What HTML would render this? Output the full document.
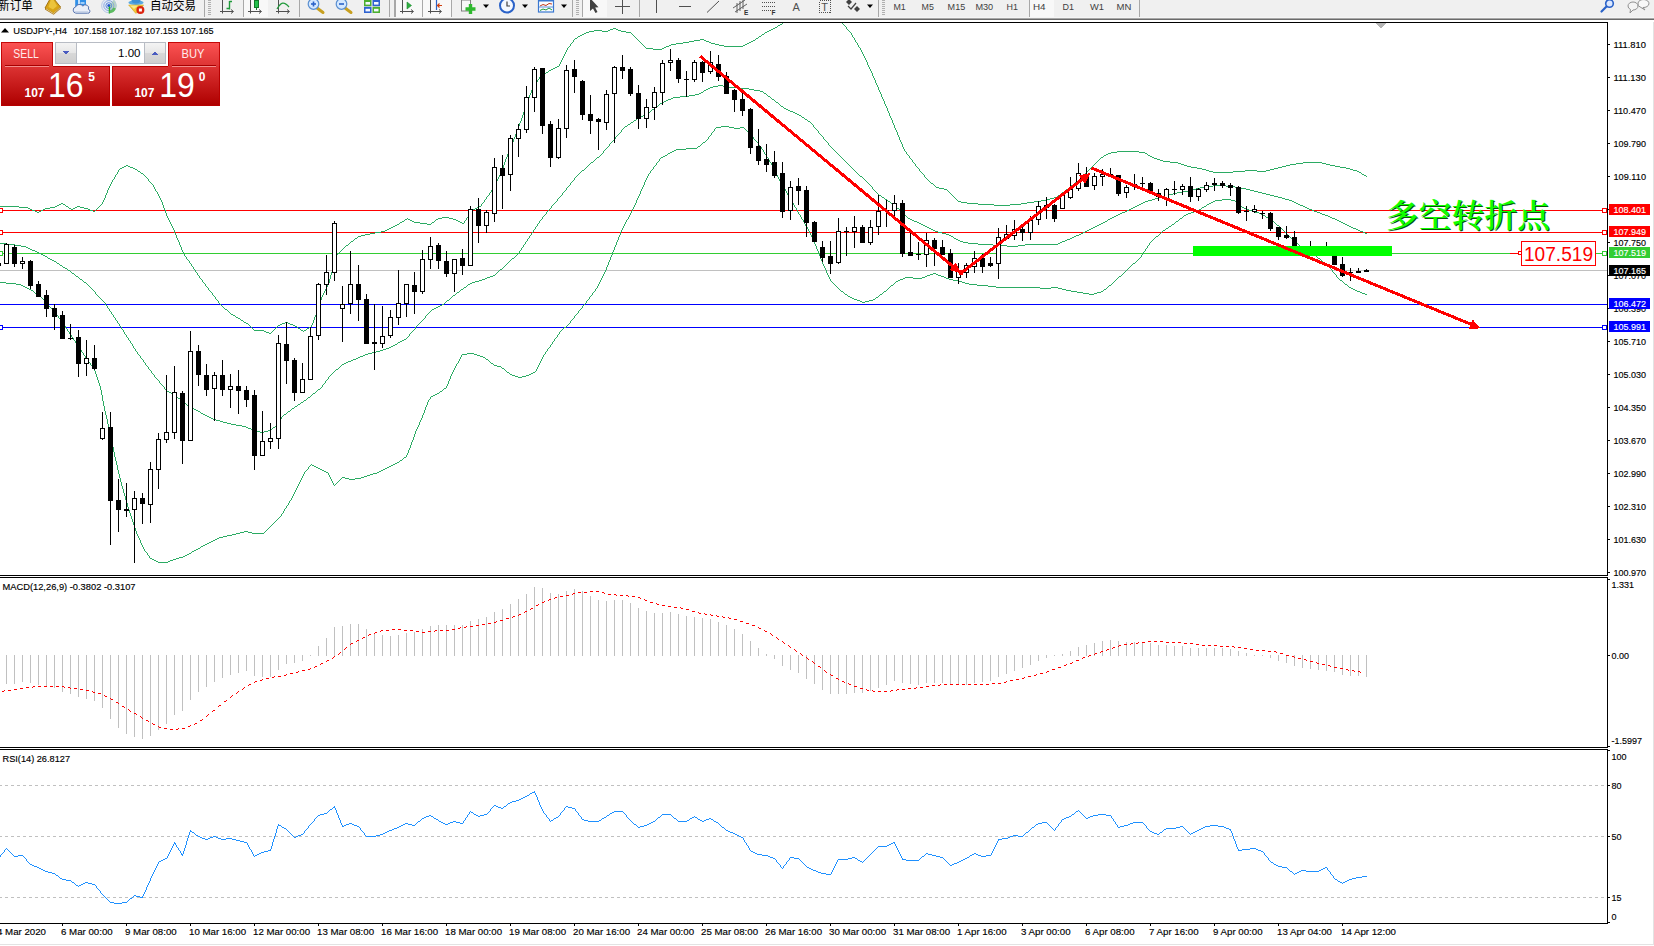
<!DOCTYPE html>
<html lang="zh"><head><meta charset="utf-8"><title>USDJPY-,H4</title>
<style>html,body{margin:0;padding:0;background:#fff;overflow:hidden}svg{display:block}text{white-space:pre}</style>
</head><body>
<svg width="1654" height="946" viewBox="0 0 1654 946">
<rect x="0" y="0" width="1654" height="946" fill="#ffffff" />
<defs><clipPath id="cm"><rect x="0" y="23" width="1607" height="552"/></clipPath><clipPath id="c2"><rect x="0" y="578" width="1607" height="169"/></clipPath><clipPath id="c3"><rect x="0" y="750" width="1607" height="173"/></clipPath><linearGradient id="gs1" x1="0" y1="0" x2="0" y2="1"><stop offset="0" stop-color="#fb5252"/><stop offset="1" stop-color="#dc3232"/></linearGradient><linearGradient id="gs2" x1="0" y1="0" x2="0" y2="1"><stop offset="0" stop-color="#dc3232"/><stop offset="1" stop-color="#ae0000"/></linearGradient><linearGradient id="gb" x1="0" y1="0" x2="0" y2="1"><stop offset="0" stop-color="#f4f4f4"/><stop offset="0.5" stop-color="#e6e6e6"/><stop offset="0.51" stop-color="#d8d8d8"/><stop offset="1" stop-color="#cfcfcf"/></linearGradient></defs>
<g clip-path="url(#cm)" shape-rendering="crispEdges">
<rect x="0" y="270" width="1608" height="1" fill="#c0c0c0" />
<rect x="0" y="210" width="1608" height="1" fill="#ff0000" />
<rect x="0" y="232" width="1608" height="1" fill="#ff0000" />
<rect x="0" y="253" width="1511" height="1" fill="#32cd32" />
<rect x="1595" y="253" width="13" height="1" fill="#32cd32" />
<rect x="0" y="304" width="1608" height="1" fill="#0000ff" />
<rect x="0" y="327" width="1608" height="1" fill="#0000ff" />
<path d="M811,5h3v1h-3zM809,6h2v1h-2zM814,6h4v1h-4zM806,7h3v1h-3zM818,7h3v1h-3zM804,8h2v1h-2zM821,8h4v1h-4zM802,9h2v1h-2zM825,9h4v1h-4zM799,10h3v1h-3zM829,10h2v1h-2zM797,11h2v1h-2zM795,12h2v1h-2zM791,15h2v1h-2zM785,20h2v1h-2zM780,24h2v1h-2zM778,25h2v1h-2zM775,27h2v1h-2zM613,28h3v1h-3zM773,28h2v1h-2zM610,29h3v1h-3zM616,29h2v1h-2zM771,29h2v1h-2zM594,30h8v1h-8zM608,30h2v1h-2zM618,30h3v1h-3zM769,30h2v1h-2zM589,31h5v1h-5zM602,31h6v1h-6zM621,31h5v1h-5zM767,31h2v1h-2zM586,32h3v1h-3zM626,32h5v1h-5zM765,32h2v1h-2zM584,33h2v1h-2zM582,34h2v1h-2zM762,34h2v1h-2zM580,35h2v1h-2zM578,36h2v1h-2zM759,36h2v1h-2zM575,38h2v1h-2zM756,38h2v1h-2zM700,39h4v1h-4zM694,40h6v1h-6zM704,40h2v1h-2zM753,40h2v1h-2zM689,41h5v1h-5zM706,41h3v1h-3zM751,41h2v1h-2zM683,42h6v1h-6zM709,42h2v1h-2zM749,42h2v1h-2zM676,43h7v1h-7zM711,43h4v1h-4zM747,43h2v1h-2zM671,44h5v1h-5zM715,44h4v1h-4zM745,44h2v1h-2zM669,45h2v1h-2zM719,45h5v1h-5zM743,45h2v1h-2zM666,46h3v1h-3zM724,46h19v1h-19zM664,47h2v1h-2zM646,48h7v1h-7zM662,48h2v1h-2zM653,49h9v1h-9zM557,66h2v1h-2zM555,67h2v1h-2zM553,68h2v1h-2zM551,69h2v1h-2zM549,70h2v1h-2zM546,72h2v1h-2zM544,73h2v1h-2zM541,75h2v1h-2zM1117,151h22v1h-22zM1111,152h6v1h-6zM1139,152h6v1h-6zM1108,153h3v1h-3zM1145,153h2v1h-2zM1106,154h2v1h-2zM1104,155h2v1h-2zM1148,155h2v1h-2zM1150,156h2v1h-2zM1101,157h2v1h-2zM1152,157h2v1h-2zM1154,158h3v1h-3zM1157,159h3v1h-3zM1160,160h3v1h-3zM1163,161h7v1h-7zM1170,162h8v1h-8zM1303,162h19v1h-19zM1178,163h3v1h-3zM1296,163h7v1h-7zM1322,163h4v1h-4zM1181,164h3v1h-3zM1290,164h6v1h-6zM1326,164h4v1h-4zM126,165h2v1h-2zM1184,165h3v1h-3zM1286,165h4v1h-4zM1330,165h5v1h-5zM124,166h2v1h-2zM128,166h2v1h-2zM1187,166h4v1h-4zM1282,166h4v1h-4zM1335,166h5v1h-5zM122,167h2v1h-2zM130,167h3v1h-3zM1191,167h6v1h-6zM1278,167h4v1h-4zM1340,167h6v1h-6zM120,168h2v1h-2zM133,168h2v1h-2zM1197,168h5v1h-5zM1274,168h4v1h-4zM1346,168h4v1h-4zM135,169h2v1h-2zM1202,169h4v1h-4zM1270,169h4v1h-4zM1350,169h3v1h-3zM1206,170h3v1h-3zM1245,170h12v1h-12zM1266,170h4v1h-4zM1353,170h4v1h-4zM138,171h2v1h-2zM1209,171h4v1h-4zM1233,171h12v1h-12zM1257,171h9v1h-9zM1357,171h2v1h-2zM1213,172h20v1h-20zM1359,172h2v1h-2zM141,173h2v1h-2zM1362,174h2v1h-2zM1364,175h2v1h-2zM1077,180h2v1h-2zM931,183h2v1h-2zM1071,185h2v1h-2zM936,187h3v1h-3zM939,188h5v1h-5zM944,189h3v1h-3zM1066,189h2v1h-2zM1062,192h2v1h-2zM1058,195h2v1h-2zM1054,197h3v1h-3zM1050,198h4v1h-4zM1046,199h4v1h-4zM1041,200h5v1h-5zM958,201h3v1h-3zM1034,201h7v1h-7zM961,202h6v1h-6zM1027,202h7v1h-7zM61,203h2v1h-2zM967,203h11v1h-11zM1021,203h6v1h-6zM59,204h2v1h-2zM63,204h2v1h-2zM978,204h16v1h-16zM1010,204h11v1h-11zM57,205h2v1h-2zM994,205h16v1h-16zM-2,206h21v1h-21zM55,206h2v1h-2zM66,206h2v1h-2zM77,206h3v1h-3zM479,206h2v1h-2zM19,207h9v1h-9zM50,207h5v1h-5zM75,207h2v1h-2zM80,207h4v1h-4zM477,207h2v1h-2zM28,208h2v1h-2zM45,208h5v1h-5zM69,208h2v1h-2zM73,208h2v1h-2zM84,208h4v1h-4zM475,208h2v1h-2zM30,209h2v1h-2zM43,209h2v1h-2zM71,209h2v1h-2zM88,209h2v1h-2zM473,209h2v1h-2zM32,210h3v1h-3zM41,210h2v1h-2zM90,210h3v1h-3zM35,211h2v1h-2zM39,211h2v1h-2zM93,211h2v1h-2zM37,212h2v1h-2zM442,217h7v1h-7zM438,218h4v1h-4zM449,218h4v1h-4zM405,219h2v1h-2zM408,219h2v1h-2zM436,219h2v1h-2zM453,219h3v1h-3zM410,220h2v1h-2zM456,220h2v1h-2zM402,221h2v1h-2zM412,221h2v1h-2zM458,221h2v1h-2zM400,222h2v1h-2zM414,222h6v1h-6zM432,222h2v1h-2zM460,222h2v1h-2zM420,223h7v1h-7zM462,223h2v1h-2zM397,224h2v1h-2zM427,224h4v1h-4zM395,225h2v1h-2zM393,226h2v1h-2zM391,227h2v1h-2zM389,228h2v1h-2zM387,229h2v1h-2zM385,230h2v1h-2zM381,231h4v1h-4zM375,232h6v1h-6zM370,233h5v1h-5zM365,234h5v1h-5zM361,235h4v1h-4zM358,236h3v1h-3zM355,238h2v1h-2zM351,241h2v1h-2zM346,245h2v1h-2zM225,309h2v1h-2zM231,314h2v1h-2zM233,315h2v1h-2zM236,317h2v1h-2zM238,318h2v1h-2zM241,320h2v1h-2zM244,322h2v1h-2zM285,322h3v1h-3zM246,323h2v1h-2zM282,323h3v1h-3zM288,323h2v1h-2zM280,324h2v1h-2zM290,324h3v1h-3zM278,325h2v1h-2zM293,325h2v1h-2zM295,326h2v1h-2zM309,327h2v1h-2zM298,328h2v1h-2zM307,328h2v1h-2zM254,330h10v1h-10zM301,330h2v1h-2zM304,330h2v1h-2zM264,331h2v1h-2zM266,332h3v1h-3zM269,333h2v1h-2zM65,205h1v1h-1zM68,207h1v1h-1zM95,210h1v1h-1zM96,209h1v1h-1zM97,208h1v1h-1zM98,207h1v1h-1zM99,206h1v1h-1zM100,205h1v1h-1zM101,204h1v1h-1zM102,202h1v2h-1zM103,200h1v2h-1zM104,198h1v2h-1zM105,195h1v3h-1zM106,193h1v2h-1zM107,190h1v3h-1zM108,188h1v2h-1zM109,186h1v2h-1zM110,184h1v2h-1zM111,182h1v2h-1zM112,180h1v2h-1zM113,179h1v1h-1zM114,177h1v2h-1zM115,175h1v2h-1zM116,174h1v1h-1zM117,172h1v2h-1zM118,170h1v2h-1zM119,169h1v1h-1zM137,170h1v1h-1zM140,172h1v1h-1zM143,174h1v1h-1zM144,175h1v1h-1zM145,176h1v1h-1zM146,177h1v1h-1zM147,178h1v1h-1zM148,179h1v2h-1zM149,181h1v1h-1zM150,182h1v1h-1zM151,183h1v1h-1zM152,184h1v1h-1zM153,185h1v2h-1zM154,187h1v2h-1zM155,189h1v2h-1zM156,191h1v1h-1zM157,192h1v2h-1zM158,194h1v2h-1zM159,196h1v2h-1zM160,198h1v2h-1zM161,200h1v2h-1zM162,202h1v3h-1zM163,205h1v3h-1zM164,208h1v2h-1zM165,210h1v3h-1zM166,213h1v3h-1zM167,216h1v2h-1zM168,218h1v2h-1zM169,220h1v2h-1zM170,222h1v2h-1zM171,224h1v2h-1zM172,226h1v2h-1zM173,228h1v2h-1zM174,230h1v3h-1zM175,233h1v2h-1zM176,235h1v3h-1zM177,238h1v2h-1zM178,240h1v2h-1zM179,242h1v3h-1zM180,245h1v2h-1zM181,247h1v3h-1zM182,250h1v2h-1zM183,252h1v2h-1zM184,254h1v2h-1zM185,256h1v1h-1zM186,257h1v2h-1zM187,259h1v1h-1zM188,260h1v1h-1zM189,261h1v2h-1zM190,263h1v1h-1zM191,264h1v2h-1zM192,266h1v1h-1zM193,267h1v2h-1zM194,269h1v1h-1zM195,270h1v2h-1zM196,272h1v1h-1zM197,273h1v2h-1zM198,275h1v1h-1zM199,276h1v2h-1zM200,278h1v1h-1zM201,279h1v1h-1zM202,280h1v2h-1zM203,282h1v1h-1zM204,283h1v1h-1zM205,284h1v2h-1zM206,286h1v1h-1zM207,287h1v1h-1zM208,288h1v2h-1zM209,290h1v1h-1zM210,291h1v1h-1zM211,292h1v1h-1zM212,293h1v2h-1zM213,295h1v1h-1zM214,296h1v1h-1zM215,297h1v2h-1zM216,299h1v1h-1zM217,300h1v1h-1zM218,301h1v2h-1zM219,303h1v1h-1zM220,304h1v1h-1zM221,305h1v1h-1zM222,306h1v1h-1zM223,307h1v1h-1zM224,308h1v1h-1zM227,310h1v1h-1zM228,311h1v1h-1zM229,312h1v1h-1zM230,313h1v1h-1zM235,316h1v1h-1zM240,319h1v1h-1zM243,321h1v1h-1zM248,324h1v1h-1zM249,325h1v1h-1zM250,326h1v1h-1zM251,327h1v1h-1zM252,328h1v1h-1zM253,329h1v1h-1zM271,332h1v1h-1zM272,331h1v1h-1zM273,330h1v1h-1zM274,329h1v1h-1zM275,328h1v1h-1zM276,327h1v1h-1zM277,326h1v1h-1zM297,327h1v1h-1zM300,329h1v1h-1zM303,331h1v1h-1zM306,329h1v1h-1zM311,325h1v2h-1zM312,323h1v2h-1zM313,320h1v3h-1zM314,317h1v3h-1zM315,315h1v2h-1zM316,312h1v3h-1zM317,309h1v3h-1zM318,306h1v3h-1zM319,303h1v3h-1zM320,300h1v3h-1zM321,297h1v3h-1zM322,295h1v2h-1zM323,293h1v2h-1zM324,291h1v2h-1zM325,289h1v2h-1zM326,287h1v2h-1zM327,285h1v2h-1zM328,283h1v2h-1zM329,279h1v4h-1zM330,275h1v4h-1zM331,272h1v3h-1zM332,268h1v4h-1zM333,265h1v3h-1zM334,261h1v4h-1zM335,257h1v4h-1zM336,255h1v2h-1zM337,254h1v1h-1zM338,253h1v1h-1zM339,252h1v1h-1zM340,251h1v1h-1zM341,250h1v1h-1zM342,249h1v1h-1zM343,248h1v1h-1zM344,247h1v1h-1zM345,246h1v1h-1zM348,244h1v1h-1zM349,243h1v1h-1zM350,242h1v1h-1zM353,240h1v1h-1zM354,239h1v1h-1zM357,237h1v1h-1zM399,223h1v1h-1zM404,220h1v1h-1zM407,218h1v1h-1zM431,223h1v1h-1zM434,221h1v1h-1zM435,220h1v1h-1zM464,221h1v2h-1zM465,220h1v1h-1zM466,218h1v2h-1zM467,217h1v1h-1zM468,216h1v1h-1zM469,214h1v2h-1zM470,213h1v1h-1zM471,211h1v2h-1zM472,210h1v1h-1zM481,204h1v2h-1zM482,203h1v1h-1zM483,202h1v1h-1zM484,200h1v2h-1zM485,199h1v1h-1zM486,197h1v2h-1zM487,196h1v1h-1zM488,195h1v1h-1zM489,193h1v2h-1zM490,192h1v1h-1zM491,190h1v2h-1zM492,188h1v2h-1zM493,186h1v2h-1zM494,184h1v2h-1zM495,183h1v1h-1zM496,181h1v2h-1zM497,179h1v2h-1zM498,177h1v2h-1zM499,175h1v2h-1zM500,173h1v2h-1zM501,170h1v3h-1zM502,168h1v2h-1zM503,165h1v3h-1zM504,162h1v3h-1zM505,159h1v3h-1zM506,157h1v2h-1zM507,154h1v3h-1zM508,151h1v3h-1zM509,149h1v2h-1zM510,146h1v3h-1zM511,144h1v2h-1zM512,142h1v2h-1zM513,139h1v3h-1zM514,137h1v2h-1zM515,134h1v3h-1zM516,132h1v2h-1zM517,129h1v3h-1zM518,126h1v3h-1zM519,123h1v3h-1zM520,121h1v2h-1zM521,118h1v3h-1zM522,115h1v3h-1zM523,112h1v3h-1zM524,109h1v3h-1zM525,106h1v3h-1zM526,104h1v2h-1zM527,101h1v3h-1zM528,98h1v3h-1zM529,95h1v3h-1zM530,93h1v2h-1zM531,90h1v3h-1zM532,88h1v2h-1zM533,86h1v2h-1zM534,85h1v1h-1zM535,83h1v2h-1zM536,82h1v1h-1zM537,80h1v2h-1zM538,79h1v1h-1zM539,77h1v2h-1zM540,76h1v1h-1zM543,74h1v1h-1zM548,71h1v1h-1zM559,64h1v2h-1zM560,62h1v2h-1zM561,60h1v2h-1zM562,58h1v2h-1zM563,56h1v2h-1zM564,54h1v2h-1zM565,52h1v2h-1zM566,50h1v2h-1zM567,48h1v2h-1zM568,47h1v1h-1zM569,46h1v1h-1zM570,44h1v2h-1zM571,43h1v1h-1zM572,42h1v1h-1zM573,40h1v2h-1zM574,39h1v1h-1zM577,37h1v1h-1zM631,33h1v1h-1zM632,34h1v1h-1zM633,35h1v1h-1zM634,36h1v1h-1zM635,37h1v1h-1zM636,38h1v1h-1zM637,39h1v1h-1zM638,40h1v1h-1zM639,41h1v1h-1zM640,42h1v1h-1zM641,43h1v1h-1zM642,44h1v1h-1zM643,45h1v1h-1zM644,46h1v1h-1zM645,47h1v1h-1zM755,39h1v1h-1zM758,37h1v1h-1zM761,35h1v1h-1zM764,33h1v1h-1zM777,26h1v1h-1zM782,23h1v1h-1zM783,22h1v1h-1zM784,21h1v1h-1zM787,19h1v1h-1zM788,18h1v1h-1zM789,17h1v1h-1zM790,16h1v1h-1zM793,14h1v1h-1zM794,13h1v1h-1zM831,11h1v1h-1zM832,12h1v1h-1zM833,13h1v1h-1zM834,14h1v1h-1zM835,15h1v1h-1zM836,16h1v2h-1zM837,18h1v1h-1zM838,19h1v1h-1zM839,20h1v1h-1zM840,21h1v1h-1zM841,22h1v1h-1zM842,23h1v1h-1zM843,24h1v1h-1zM844,25h1v1h-1zM845,26h1v1h-1zM846,27h1v2h-1zM847,29h1v1h-1zM848,30h1v1h-1zM849,31h1v1h-1zM850,32h1v1h-1zM851,33h1v2h-1zM852,35h1v2h-1zM853,37h1v1h-1zM854,38h1v2h-1zM855,40h1v2h-1zM856,42h1v1h-1zM857,43h1v2h-1zM858,45h1v2h-1zM859,47h1v1h-1zM860,48h1v2h-1zM861,50h1v2h-1zM862,52h1v2h-1zM863,54h1v2h-1zM864,56h1v2h-1zM865,58h1v2h-1zM866,60h1v2h-1zM867,62h1v3h-1zM868,65h1v2h-1zM869,67h1v2h-1zM870,69h1v2h-1zM871,71h1v2h-1zM872,73h1v3h-1zM873,76h1v2h-1zM874,78h1v2h-1zM875,80h1v3h-1zM876,83h1v2h-1zM877,85h1v2h-1zM878,87h1v3h-1zM879,90h1v2h-1zM880,92h1v2h-1zM881,94h1v3h-1zM882,97h1v2h-1zM883,99h1v2h-1zM884,101h1v3h-1zM885,104h1v2h-1zM886,106h1v2h-1zM887,108h1v3h-1zM888,111h1v2h-1zM889,113h1v3h-1zM890,116h1v2h-1zM891,118h1v2h-1zM892,120h1v3h-1zM893,123h1v2h-1zM894,125h1v3h-1zM895,128h1v2h-1zM896,130h1v2h-1zM897,132h1v3h-1zM898,135h1v2h-1zM899,137h1v3h-1zM900,140h1v2h-1zM901,142h1v2h-1zM902,144h1v3h-1zM903,147h1v2h-1zM904,149h1v2h-1zM905,151h1v1h-1zM906,152h1v2h-1zM907,154h1v1h-1zM908,155h1v1h-1zM909,156h1v2h-1zM910,158h1v1h-1zM911,159h1v1h-1zM912,160h1v2h-1zM913,162h1v1h-1zM914,163h1v1h-1zM915,164h1v2h-1zM916,166h1v1h-1zM917,167h1v1h-1zM918,168h1v1h-1zM919,169h1v2h-1zM920,171h1v1h-1zM921,172h1v1h-1zM922,173h1v1h-1zM923,174h1v1h-1zM924,175h1v2h-1zM925,177h1v1h-1zM926,178h1v1h-1zM927,179h1v1h-1zM928,180h1v1h-1zM929,181h1v1h-1zM930,182h1v1h-1zM933,184h1v1h-1zM934,185h1v1h-1zM935,186h1v1h-1zM947,190h1v1h-1zM948,191h1v1h-1zM949,192h1v1h-1zM950,193h1v1h-1zM951,194h1v1h-1zM952,195h1v1h-1zM953,196h1v1h-1zM954,197h1v1h-1zM955,198h1v1h-1zM956,199h1v1h-1zM957,200h1v1h-1zM1057,196h1v1h-1zM1060,194h1v1h-1zM1061,193h1v1h-1zM1064,191h1v1h-1zM1065,190h1v1h-1zM1068,188h1v1h-1zM1069,187h1v1h-1zM1070,186h1v1h-1zM1073,184h1v1h-1zM1074,183h1v1h-1zM1075,182h1v1h-1zM1076,181h1v1h-1zM1079,179h1v1h-1zM1080,178h1v1h-1zM1081,177h1v1h-1zM1082,176h1v1h-1zM1083,175h1v1h-1zM1084,174h1v1h-1zM1085,173h1v1h-1zM1086,172h1v1h-1zM1087,171h1v1h-1zM1088,170h1v1h-1zM1089,169h1v1h-1zM1090,168h1v1h-1zM1091,167h1v1h-1zM1092,166h1v1h-1zM1093,165h1v1h-1zM1094,164h1v1h-1zM1095,163h1v1h-1zM1096,162h1v1h-1zM1097,161h1v1h-1zM1098,160h1v1h-1zM1099,159h1v1h-1zM1100,158h1v1h-1zM1103,156h1v1h-1zM1147,154h1v1h-1zM1361,173h1v1h-1zM1366,176h1v1h-1z" fill="#2bab63"/>
<path d="M718,85h5v1h-5zM713,86h5v1h-5zM723,86h6v1h-6zM710,87h3v1h-3zM729,87h10v1h-10zM708,88h2v1h-2zM739,88h10v1h-10zM706,89h2v1h-2zM749,89h5v1h-5zM704,90h2v1h-2zM754,90h6v1h-6zM760,91h3v1h-3zM701,92h2v1h-2zM699,93h2v1h-2zM764,93h2v1h-2zM695,94h4v1h-4zM689,95h6v1h-6zM680,96h9v1h-9zM768,96h2v1h-2zM673,97h7v1h-7zM671,98h2v1h-2zM668,99h3v1h-3zM772,99h2v1h-2zM666,100h2v1h-2zM664,101h2v1h-2zM662,102h2v1h-2zM776,102h2v1h-2zM660,103h2v1h-2zM656,106h2v1h-2zM781,106h2v1h-2zM784,108h2v1h-2zM652,109h2v1h-2zM786,109h2v1h-2zM788,110h2v1h-2zM790,111h3v1h-3zM648,112h2v1h-2zM793,112h2v1h-2zM646,113h2v1h-2zM795,113h2v1h-2zM644,114h2v1h-2zM797,114h2v1h-2zM799,115h2v1h-2zM641,116h2v1h-2zM639,117h2v1h-2zM802,117h2v1h-2zM637,118h2v1h-2zM805,119h2v1h-2zM634,120h2v1h-2zM808,121h2v1h-2zM631,122h2v1h-2zM628,124h2v1h-2zM625,126h2v1h-2zM597,157h2v1h-2zM591,162h2v1h-2zM582,170h2v1h-2zM860,176h2v1h-2zM1213,185h13v1h-13zM1204,186h9v1h-9zM1226,186h9v1h-9zM1200,187h4v1h-4zM1235,187h6v1h-6zM1196,188h4v1h-4zM1241,188h5v1h-5zM1192,189h4v1h-4zM1246,189h4v1h-4zM1188,190h4v1h-4zM1250,190h4v1h-4zM1182,191h6v1h-6zM1254,191h4v1h-4zM1177,192h5v1h-5zM1258,192h4v1h-4zM1173,193h4v1h-4zM1262,193h4v1h-4zM1169,194h4v1h-4zM1266,194h4v1h-4zM879,195h2v1h-2zM1166,195h3v1h-3zM1270,195h4v1h-4zM1162,196h4v1h-4zM1274,196h4v1h-4zM882,197h2v1h-2zM1159,197h3v1h-3zM1278,197h4v1h-4zM1155,198h4v1h-4zM1282,198h3v1h-3zM885,199h2v1h-2zM1152,199h3v1h-3zM1285,199h4v1h-4zM1148,200h4v1h-4zM1289,200h3v1h-3zM888,201h2v1h-2zM1145,201h3v1h-3zM1292,201h2v1h-2zM1143,202h2v1h-2zM1294,202h2v1h-2zM1141,203h2v1h-2zM1296,203h2v1h-2zM892,204h2v1h-2zM1139,204h2v1h-2zM1298,204h2v1h-2zM1137,205h2v1h-2zM1300,205h3v1h-3zM1135,206h2v1h-2zM1303,206h2v1h-2zM1133,207h2v1h-2zM1305,207h2v1h-2zM897,208h2v1h-2zM1131,208h2v1h-2zM1307,208h2v1h-2zM1129,209h2v1h-2zM1309,209h3v1h-3zM1127,210h2v1h-2zM1312,210h2v1h-2zM1125,211h2v1h-2zM1314,211h3v1h-3zM1122,212h3v1h-3zM1317,212h3v1h-3zM1120,213h2v1h-2zM1320,213h2v1h-2zM1118,214h2v1h-2zM1322,214h3v1h-3zM1116,215h2v1h-2zM1325,215h3v1h-3zM1114,216h2v1h-2zM1328,216h2v1h-2zM1112,217h2v1h-2zM1330,217h2v1h-2zM908,218h2v1h-2zM1110,218h2v1h-2zM1332,218h3v1h-3zM910,219h2v1h-2zM1108,219h2v1h-2zM1335,219h2v1h-2zM912,220h2v1h-2zM1337,220h2v1h-2zM914,221h3v1h-3zM1105,221h2v1h-2zM1339,221h2v1h-2zM917,222h2v1h-2zM1103,222h2v1h-2zM1341,222h2v1h-2zM919,223h2v1h-2zM1101,223h2v1h-2zM1343,223h2v1h-2zM921,224h2v1h-2zM1099,224h2v1h-2zM1345,224h2v1h-2zM923,225h2v1h-2zM1097,225h2v1h-2zM1347,225h2v1h-2zM925,226h2v1h-2zM1095,226h2v1h-2zM1349,226h2v1h-2zM927,227h2v1h-2zM1093,227h2v1h-2zM1351,227h2v1h-2zM929,228h2v1h-2zM1091,228h2v1h-2zM1353,228h3v1h-3zM931,229h2v1h-2zM1089,229h2v1h-2zM1356,229h2v1h-2zM933,230h2v1h-2zM1087,230h2v1h-2zM1358,230h2v1h-2zM935,231h3v1h-3zM1085,231h2v1h-2zM1360,231h3v1h-3zM938,232h4v1h-4zM1083,232h2v1h-2zM1363,232h2v1h-2zM942,233h4v1h-4zM1081,233h2v1h-2zM1365,233h2v1h-2zM946,234h3v1h-3zM1079,234h2v1h-2zM949,235h2v1h-2zM1076,235h3v1h-3zM951,236h2v1h-2zM1074,236h2v1h-2zM1072,237h2v1h-2zM954,238h2v1h-2zM1070,238h2v1h-2zM956,239h2v1h-2zM1067,239h3v1h-3zM958,240h2v1h-2zM1065,240h2v1h-2zM960,241h3v1h-3zM1062,241h3v1h-3zM963,242h5v1h-5zM1060,242h2v1h-2zM-2,243h8v1h-8zM968,243h10v1h-10zM1058,243h2v1h-2zM6,244h9v1h-9zM978,244h15v1h-15zM1025,244h33v1h-33zM15,245h6v1h-6zM993,245h14v1h-14zM1018,245h7v1h-7zM21,246h5v1h-5zM1007,246h11v1h-11zM26,247h2v1h-2zM28,248h2v1h-2zM30,249h2v1h-2zM32,250h3v1h-3zM35,251h2v1h-2zM37,252h2v1h-2zM39,253h2v1h-2zM41,254h2v1h-2zM43,255h2v1h-2zM45,256h2v1h-2zM48,258h2v1h-2zM512,258h2v1h-2zM50,259h2v1h-2zM52,260h2v1h-2zM54,261h2v1h-2zM57,263h2v1h-2zM60,265h2v1h-2zM63,267h2v1h-2zM65,268h2v1h-2zM500,269h2v1h-2zM68,270h2v1h-2zM72,273h2v1h-2zM493,275h2v1h-2zM76,276h2v1h-2zM490,276h3v1h-3zM487,277h3v1h-3zM485,278h2v1h-2zM80,279h2v1h-2zM482,279h3v1h-3zM479,280h3v1h-3zM475,281h4v1h-4zM84,282h2v1h-2zM472,282h3v1h-3zM470,283h2v1h-2zM468,284h2v1h-2zM464,287h2v1h-2zM461,289h2v1h-2zM457,292h2v1h-2zM453,295h2v1h-2zM447,300h2v1h-2zM442,304h2v1h-2zM440,305h2v1h-2zM438,306h2v1h-2zM436,307h2v1h-2zM434,308h2v1h-2zM432,309h2v1h-2zM404,339h2v1h-2zM402,340h2v1h-2zM400,341h2v1h-2zM398,342h2v1h-2zM395,344h2v1h-2zM393,345h2v1h-2zM391,346h2v1h-2zM389,347h2v1h-2zM386,348h3v1h-3zM383,349h3v1h-3zM380,350h3v1h-3zM376,351h4v1h-4zM372,352h4v1h-4zM368,353h4v1h-4zM365,354h3v1h-3zM363,355h2v1h-2zM360,356h3v1h-3zM358,357h2v1h-2zM356,358h2v1h-2zM353,359h3v1h-3zM351,360h2v1h-2zM348,361h3v1h-3zM346,362h2v1h-2zM344,363h2v1h-2zM342,364h2v1h-2zM336,369h2v1h-2zM318,389h2v1h-2zM167,391h2v1h-2zM169,392h2v1h-2zM313,393h2v1h-2zM172,394h2v1h-2zM174,395h2v1h-2zM308,397h2v1h-2zM178,398h2v1h-2zM304,400h2v1h-2zM301,402h2v1h-2zM184,403h2v1h-2zM298,404h2v1h-2zM188,406h2v1h-2zM295,406h2v1h-2zM190,407h2v1h-2zM192,408h2v1h-2zM292,408h2v1h-2zM194,409h2v1h-2zM196,410h2v1h-2zM198,411h2v1h-2zM288,411h2v1h-2zM201,413h2v1h-2zM203,414h2v1h-2zM284,414h2v1h-2zM205,415h2v1h-2zM207,416h2v1h-2zM209,417h2v1h-2zM211,418h2v1h-2zM213,419h3v1h-3zM216,420h4v1h-4zM220,421h3v1h-3zM223,422h4v1h-4zM227,423h4v1h-4zM231,424h5v1h-5zM236,425h6v1h-6zM242,426h4v1h-4zM246,427h2v1h-2zM273,427h2v1h-2zM248,428h3v1h-3zM251,429h2v1h-2zM253,430h3v1h-3zM268,430h3v1h-3zM256,431h4v1h-4zM264,431h4v1h-4zM260,432h4v1h-4zM47,257h1v1h-1zM56,262h1v1h-1zM59,264h1v1h-1zM62,266h1v1h-1zM67,269h1v1h-1zM70,271h1v1h-1zM71,272h1v1h-1zM74,274h1v1h-1zM75,275h1v1h-1zM78,277h1v1h-1zM79,278h1v1h-1zM82,280h1v1h-1zM83,281h1v1h-1zM86,283h1v1h-1zM87,284h1v1h-1zM88,285h1v1h-1zM89,286h1v1h-1zM90,287h1v1h-1zM91,288h1v1h-1zM92,289h1v1h-1zM93,290h1v1h-1zM94,291h1v1h-1zM95,292h1v2h-1zM96,294h1v1h-1zM97,295h1v1h-1zM98,296h1v1h-1zM99,297h1v1h-1zM100,298h1v1h-1zM101,299h1v1h-1zM102,300h1v1h-1zM103,301h1v1h-1zM104,302h1v1h-1zM105,303h1v2h-1zM106,305h1v1h-1zM107,306h1v2h-1zM108,308h1v1h-1zM109,309h1v2h-1zM110,311h1v1h-1zM111,312h1v2h-1zM112,314h1v1h-1zM113,315h1v2h-1zM114,317h1v1h-1zM115,318h1v2h-1zM116,320h1v1h-1zM117,321h1v2h-1zM118,323h1v1h-1zM119,324h1v2h-1zM120,326h1v1h-1zM121,327h1v2h-1zM122,329h1v1h-1zM123,330h1v2h-1zM124,332h1v2h-1zM125,334h1v1h-1zM126,335h1v2h-1zM127,337h1v1h-1zM128,338h1v2h-1zM129,340h1v1h-1zM130,341h1v2h-1zM131,343h1v1h-1zM132,344h1v2h-1zM133,346h1v2h-1zM134,348h1v1h-1zM135,349h1v2h-1zM136,351h1v1h-1zM137,352h1v2h-1zM138,354h1v1h-1zM139,355h1v1h-1zM140,356h1v2h-1zM141,358h1v1h-1zM142,359h1v1h-1zM143,360h1v2h-1zM144,362h1v1h-1zM145,363h1v2h-1zM146,365h1v1h-1zM147,366h1v1h-1zM148,367h1v2h-1zM149,369h1v1h-1zM150,370h1v1h-1zM151,371h1v2h-1zM152,373h1v1h-1zM153,374h1v1h-1zM154,375h1v2h-1zM155,377h1v1h-1zM156,378h1v1h-1zM157,379h1v1h-1zM158,380h1v1h-1zM159,381h1v2h-1zM160,383h1v1h-1zM161,384h1v1h-1zM162,385h1v1h-1zM163,386h1v1h-1zM164,387h1v2h-1zM165,389h1v1h-1zM166,390h1v1h-1zM171,393h1v1h-1zM176,396h1v1h-1zM177,397h1v1h-1zM180,399h1v1h-1zM181,400h1v1h-1zM182,401h1v1h-1zM183,402h1v1h-1zM186,404h1v1h-1zM187,405h1v1h-1zM200,412h1v1h-1zM271,429h1v1h-1zM272,428h1v1h-1zM275,426h1v1h-1zM276,425h1v1h-1zM277,423h1v2h-1zM278,422h1v1h-1zM279,420h1v2h-1zM280,419h1v1h-1zM281,417h1v2h-1zM282,416h1v1h-1zM283,415h1v1h-1zM286,413h1v1h-1zM287,412h1v1h-1zM290,410h1v1h-1zM291,409h1v1h-1zM294,407h1v1h-1zM297,405h1v1h-1zM300,403h1v1h-1zM303,401h1v1h-1zM306,399h1v1h-1zM307,398h1v1h-1zM310,396h1v1h-1zM311,395h1v1h-1zM312,394h1v1h-1zM315,392h1v1h-1zM316,391h1v1h-1zM317,390h1v1h-1zM320,388h1v1h-1zM321,387h1v1h-1zM322,385h1v2h-1zM323,384h1v1h-1zM324,383h1v1h-1zM325,381h1v2h-1zM326,380h1v1h-1zM327,379h1v1h-1zM328,377h1v2h-1zM329,376h1v1h-1zM330,375h1v1h-1zM331,374h1v1h-1zM332,373h1v1h-1zM333,372h1v1h-1zM334,371h1v1h-1zM335,370h1v1h-1zM338,368h1v1h-1zM339,367h1v1h-1zM340,366h1v1h-1zM341,365h1v1h-1zM397,343h1v1h-1zM406,338h1v1h-1zM407,337h1v1h-1zM408,336h1v1h-1zM409,334h1v2h-1zM410,333h1v1h-1zM411,332h1v1h-1zM412,331h1v1h-1zM413,330h1v1h-1zM414,329h1v1h-1zM415,327h1v2h-1zM416,326h1v1h-1zM417,325h1v1h-1zM418,324h1v1h-1zM419,323h1v1h-1zM420,322h1v1h-1zM421,321h1v1h-1zM422,320h1v1h-1zM423,319h1v1h-1zM424,318h1v1h-1zM425,316h1v2h-1zM426,315h1v1h-1zM427,314h1v1h-1zM428,313h1v1h-1zM429,312h1v1h-1zM430,311h1v1h-1zM431,310h1v1h-1zM444,303h1v1h-1zM445,302h1v1h-1zM446,301h1v1h-1zM449,299h1v1h-1zM450,298h1v1h-1zM451,297h1v1h-1zM452,296h1v1h-1zM455,294h1v1h-1zM456,293h1v1h-1zM459,291h1v1h-1zM460,290h1v1h-1zM463,288h1v1h-1zM466,286h1v1h-1zM467,285h1v1h-1zM495,274h1v1h-1zM496,273h1v1h-1zM497,272h1v1h-1zM498,271h1v1h-1zM499,270h1v1h-1zM502,268h1v1h-1zM503,267h1v1h-1zM504,266h1v1h-1zM505,265h1v1h-1zM506,264h1v1h-1zM507,263h1v1h-1zM508,262h1v1h-1zM509,261h1v1h-1zM510,260h1v1h-1zM511,259h1v1h-1zM514,257h1v1h-1zM515,256h1v1h-1zM516,255h1v1h-1zM517,254h1v1h-1zM518,253h1v1h-1zM519,251h1v2h-1zM520,250h1v1h-1zM521,248h1v2h-1zM522,247h1v1h-1zM523,245h1v2h-1zM524,244h1v1h-1zM525,242h1v2h-1zM526,241h1v1h-1zM527,239h1v2h-1zM528,238h1v1h-1zM529,236h1v2h-1zM530,235h1v1h-1zM531,233h1v2h-1zM532,232h1v1h-1zM533,230h1v2h-1zM534,229h1v1h-1zM535,227h1v2h-1zM536,226h1v1h-1zM537,224h1v2h-1zM538,223h1v1h-1zM539,221h1v2h-1zM540,220h1v1h-1zM541,219h1v1h-1zM542,217h1v2h-1zM543,216h1v1h-1zM544,215h1v1h-1zM545,214h1v1h-1zM546,212h1v2h-1zM547,211h1v1h-1zM548,210h1v1h-1zM549,209h1v1h-1zM550,208h1v1h-1zM551,206h1v2h-1zM552,205h1v1h-1zM553,204h1v1h-1zM554,203h1v1h-1zM555,202h1v1h-1zM556,201h1v1h-1zM557,199h1v2h-1zM558,198h1v1h-1zM559,197h1v1h-1zM560,196h1v1h-1zM561,195h1v1h-1zM562,193h1v2h-1zM563,192h1v1h-1zM564,191h1v1h-1zM565,190h1v1h-1zM566,188h1v2h-1zM567,187h1v1h-1zM568,186h1v1h-1zM569,185h1v1h-1zM570,183h1v2h-1zM571,182h1v1h-1zM572,181h1v1h-1zM573,180h1v1h-1zM574,178h1v2h-1zM575,177h1v1h-1zM576,176h1v1h-1zM577,175h1v1h-1zM578,174h1v1h-1zM579,173h1v1h-1zM580,172h1v1h-1zM581,171h1v1h-1zM584,169h1v1h-1zM585,168h1v1h-1zM586,167h1v1h-1zM587,166h1v1h-1zM588,165h1v1h-1zM589,164h1v1h-1zM590,163h1v1h-1zM593,161h1v1h-1zM594,160h1v1h-1zM595,159h1v1h-1zM596,158h1v1h-1zM599,156h1v1h-1zM600,155h1v1h-1zM601,154h1v1h-1zM602,153h1v1h-1zM603,151h1v2h-1zM604,150h1v1h-1zM605,149h1v1h-1zM606,148h1v1h-1zM607,147h1v1h-1zM608,146h1v1h-1zM609,144h1v2h-1zM610,143h1v1h-1zM611,142h1v1h-1zM612,141h1v1h-1zM613,140h1v1h-1zM614,139h1v1h-1zM615,137h1v2h-1zM616,136h1v1h-1zM617,135h1v1h-1zM618,134h1v1h-1zM619,133h1v1h-1zM620,132h1v1h-1zM621,130h1v2h-1zM622,129h1v1h-1zM623,128h1v1h-1zM624,127h1v1h-1zM627,125h1v1h-1zM630,123h1v1h-1zM633,121h1v1h-1zM636,119h1v1h-1zM643,115h1v1h-1zM650,111h1v1h-1zM651,110h1v1h-1zM654,108h1v1h-1zM655,107h1v1h-1zM658,105h1v1h-1zM659,104h1v1h-1zM703,91h1v1h-1zM763,92h1v1h-1zM766,94h1v1h-1zM767,95h1v1h-1zM770,97h1v1h-1zM771,98h1v1h-1zM774,100h1v1h-1zM775,101h1v1h-1zM778,103h1v1h-1zM779,104h1v1h-1zM780,105h1v1h-1zM783,107h1v1h-1zM801,116h1v1h-1zM804,118h1v1h-1zM807,120h1v1h-1zM810,122h1v1h-1zM811,123h1v1h-1zM812,124h1v1h-1zM813,125h1v2h-1zM814,127h1v1h-1zM815,128h1v1h-1zM816,129h1v1h-1zM817,130h1v1h-1zM818,131h1v2h-1zM819,133h1v1h-1zM820,134h1v1h-1zM821,135h1v1h-1zM822,136h1v1h-1zM823,137h1v2h-1zM824,139h1v1h-1zM825,140h1v1h-1zM826,141h1v1h-1zM827,142h1v1h-1zM828,143h1v2h-1zM829,145h1v1h-1zM830,146h1v1h-1zM831,147h1v1h-1zM832,148h1v1h-1zM833,149h1v1h-1zM834,150h1v1h-1zM835,151h1v1h-1zM836,152h1v1h-1zM837,153h1v1h-1zM838,154h1v1h-1zM839,155h1v1h-1zM840,156h1v1h-1zM841,157h1v1h-1zM842,158h1v1h-1zM843,159h1v1h-1zM844,160h1v1h-1zM845,161h1v1h-1zM846,162h1v1h-1zM847,163h1v1h-1zM848,164h1v1h-1zM849,165h1v1h-1zM850,166h1v1h-1zM851,167h1v1h-1zM852,168h1v1h-1zM853,169h1v1h-1zM854,170h1v1h-1zM855,171h1v1h-1zM856,172h1v1h-1zM857,173h1v1h-1zM858,174h1v1h-1zM859,175h1v1h-1zM862,177h1v1h-1zM863,178h1v1h-1zM864,179h1v1h-1zM865,180h1v1h-1zM866,181h1v1h-1zM867,182h1v1h-1zM868,183h1v1h-1zM869,184h1v1h-1zM870,185h1v1h-1zM871,186h1v1h-1zM872,187h1v2h-1zM873,189h1v1h-1zM874,190h1v1h-1zM875,191h1v1h-1zM876,192h1v1h-1zM877,193h1v1h-1zM878,194h1v1h-1zM881,196h1v1h-1zM884,198h1v1h-1zM887,200h1v1h-1zM890,202h1v1h-1zM891,203h1v1h-1zM894,205h1v1h-1zM895,206h1v1h-1zM896,207h1v1h-1zM899,209h1v1h-1zM900,210h1v1h-1zM901,211h1v1h-1zM902,212h1v1h-1zM903,213h1v1h-1zM904,214h1v1h-1zM905,215h1v1h-1zM906,216h1v1h-1zM907,217h1v1h-1zM953,237h1v1h-1zM1107,220h1v1h-1z" fill="#2bab63"/>
<path d="M721,126h8v1h-8zM716,127h5v1h-5zM729,127h5v1h-5zM740,127h4v1h-4zM734,128h6v1h-6zM703,142h2v1h-2zM698,146h2v1h-2zM686,148h11v1h-11zM676,149h10v1h-10zM674,150h2v1h-2zM672,151h2v1h-2zM670,152h2v1h-2zM668,153h2v1h-2zM665,155h2v1h-2zM663,156h2v1h-2zM661,157h2v1h-2zM1222,199h9v1h-9zM1215,200h7v1h-7zM1231,200h4v1h-4zM1213,201h2v1h-2zM1211,202h2v1h-2zM1209,203h2v1h-2zM1207,204h2v1h-2zM1238,204h2v1h-2zM1204,206h2v1h-2zM1202,207h2v1h-2zM1242,207h2v1h-2zM1244,208h2v1h-2zM1199,209h2v1h-2zM1246,209h3v1h-3zM1197,210h2v1h-2zM1249,210h3v1h-3zM1194,211h3v1h-3zM1252,211h3v1h-3zM1191,212h3v1h-3zM1255,212h4v1h-4zM1188,213h3v1h-3zM1259,213h2v1h-2zM1186,214h2v1h-2zM1261,214h2v1h-2zM1184,215h2v1h-2zM1263,215h2v1h-2zM1266,217h2v1h-2zM1180,218h2v1h-2zM1268,218h2v1h-2zM1176,221h2v1h-2zM1272,221h2v1h-2zM1172,224h2v1h-2zM1277,225h2v1h-2zM1169,226h2v1h-2zM1166,228h2v1h-2zM1163,230h2v1h-2zM1156,236h2v1h-2zM1295,242h2v1h-2zM1301,247h2v1h-2zM1303,248h2v1h-2zM1306,250h2v1h-2zM1308,251h2v1h-2zM1311,253h2v1h-2zM1313,254h2v1h-2zM1318,258h2v1h-2zM1133,263h2v1h-2zM1326,265h2v1h-2zM933,273h3v1h-3zM930,274h3v1h-3zM936,274h2v1h-2zM927,275h3v1h-3zM938,275h3v1h-3zM925,276h2v1h-2zM941,276h3v1h-3zM1119,276h2v1h-2zM905,277h8v1h-8zM922,277h3v1h-3zM944,277h2v1h-2zM903,278h2v1h-2zM913,278h9v1h-9zM946,278h3v1h-3zM900,279h3v1h-3zM949,279h4v1h-4zM898,280h2v1h-2zM953,280h5v1h-5zM1340,280h2v1h-2zM896,281h2v1h-2zM958,281h4v1h-4zM-2,282h8v1h-8zM962,282h3v1h-3zM6,283h10v1h-10zM965,283h4v1h-4zM16,284h5v1h-5zM969,284h8v1h-8zM1345,284h2v1h-2zM21,285h2v1h-2zM891,285h2v1h-2zM977,285h11v1h-11zM1109,285h2v1h-2zM23,286h2v1h-2zM988,286h8v1h-8zM25,287h2v1h-2zM996,287h44v1h-44zM1051,287h7v1h-7zM1349,287h2v1h-2zM27,288h2v1h-2zM1040,288h11v1h-11zM1058,288h4v1h-4zM1351,288h2v1h-2zM29,289h2v1h-2zM1062,289h4v1h-4zM1104,289h2v1h-2zM1353,289h2v1h-2zM31,290h2v1h-2zM1066,290h5v1h-5zM1355,290h2v1h-2zM841,291h2v1h-2zM884,291h2v1h-2zM1071,291h6v1h-6zM1101,291h2v1h-2zM1357,291h3v1h-3zM1077,292h6v1h-6zM1097,292h4v1h-4zM1360,292h2v1h-2zM35,293h2v1h-2zM1083,293h6v1h-6zM1094,293h3v1h-3zM1362,293h3v1h-3zM845,294h2v1h-2zM880,294h2v1h-2zM1089,294h5v1h-5zM1365,294h2v1h-2zM38,295h2v1h-2zM848,296h2v1h-2zM850,297h2v1h-2zM876,297h2v1h-2zM852,298h2v1h-2zM854,299h3v1h-3zM873,299h2v1h-2zM857,300h3v1h-3zM869,300h4v1h-4zM860,301h2v1h-2zM865,301h4v1h-4zM862,302h3v1h-3zM564,327h2v1h-2zM467,353h7v1h-7zM462,354h5v1h-5zM474,354h3v1h-3zM477,355h3v1h-3zM480,356h3v1h-3zM483,357h2v1h-2zM486,359h2v1h-2zM491,363h2v1h-2zM494,365h3v1h-3zM497,366h4v1h-4zM502,368h2v1h-2zM507,372h2v1h-2zM533,372h2v1h-2zM531,373h2v1h-2zM510,374h2v1h-2zM529,374h2v1h-2zM512,375h3v1h-3zM526,375h3v1h-3zM515,376h3v1h-3zM522,376h4v1h-4zM518,377h4v1h-4zM444,388h2v1h-2zM440,391h2v1h-2zM437,393h2v1h-2zM435,394h2v1h-2zM433,395h2v1h-2zM431,396h2v1h-2zM404,457h2v1h-2zM400,460h2v1h-2zM397,462h2v1h-2zM395,463h2v1h-2zM393,464h2v1h-2zM312,465h2v1h-2zM391,465h2v1h-2zM314,466h2v1h-2zM389,466h2v1h-2zM316,467h2v1h-2zM387,467h2v1h-2zM318,468h2v1h-2zM385,468h2v1h-2zM320,469h2v1h-2zM383,469h2v1h-2zM322,470h2v1h-2zM381,470h2v1h-2zM324,471h2v1h-2zM379,471h2v1h-2zM326,472h2v1h-2zM377,472h2v1h-2zM373,473h4v1h-4zM370,474h3v1h-3zM367,475h3v1h-3zM364,476h3v1h-3zM342,477h3v1h-3zM361,477h3v1h-3zM345,478h4v1h-4zM355,478h6v1h-6zM349,479h6v1h-6zM244,531h4v1h-4zM240,532h4v1h-4zM248,532h4v1h-4zM236,533h4v1h-4zM252,533h12v1h-12zM232,534h4v1h-4zM227,535h5v1h-5zM223,536h4v1h-4zM219,537h4v1h-4zM217,538h2v1h-2zM215,539h2v1h-2zM213,540h2v1h-2zM211,541h2v1h-2zM209,542h2v1h-2zM207,543h2v1h-2zM205,544h2v1h-2zM203,545h2v1h-2zM201,546h2v1h-2zM198,548h2v1h-2zM196,549h2v1h-2zM194,550h2v1h-2zM192,551h2v1h-2zM189,553h2v1h-2zM187,554h2v1h-2zM185,555h2v1h-2zM183,556h2v1h-2zM179,557h4v1h-4zM150,558h2v1h-2zM176,558h3v1h-3zM152,559h2v1h-2zM173,559h3v1h-3zM154,560h2v1h-2zM170,560h3v1h-3zM156,561h2v1h-2zM168,561h2v1h-2zM158,562h10v1h-10zM33,291h1v1h-1zM34,292h1v1h-1zM37,294h1v1h-1zM40,296h1v1h-1zM41,297h1v1h-1zM42,298h1v1h-1zM43,299h1v1h-1zM44,300h1v1h-1zM45,301h1v2h-1zM46,303h1v1h-1zM47,304h1v1h-1zM48,305h1v1h-1zM49,306h1v1h-1zM50,307h1v1h-1zM51,308h1v1h-1zM52,309h1v1h-1zM53,310h1v2h-1zM54,312h1v1h-1zM55,313h1v1h-1zM56,314h1v1h-1zM57,315h1v1h-1zM58,316h1v2h-1zM59,318h1v1h-1zM60,319h1v1h-1zM61,320h1v2h-1zM62,322h1v1h-1zM63,323h1v2h-1zM64,325h1v1h-1zM65,326h1v2h-1zM66,328h1v1h-1zM67,329h1v2h-1zM68,331h1v1h-1zM69,332h1v2h-1zM70,334h1v1h-1zM71,335h1v2h-1zM72,337h1v1h-1zM73,338h1v2h-1zM74,340h1v1h-1zM75,341h1v2h-1zM76,343h1v1h-1zM77,344h1v2h-1zM78,346h1v1h-1zM79,347h1v2h-1zM80,349h1v1h-1zM81,350h1v2h-1zM82,352h1v1h-1zM83,353h1v2h-1zM84,355h1v1h-1zM85,356h1v2h-1zM86,358h1v1h-1zM87,359h1v1h-1zM88,360h1v2h-1zM89,362h1v1h-1zM90,363h1v2h-1zM91,365h1v1h-1zM92,366h1v1h-1zM93,367h1v2h-1zM94,369h1v2h-1zM95,371h1v3h-1zM96,374h1v3h-1zM97,377h1v3h-1zM98,380h1v3h-1zM99,383h1v3h-1zM100,386h1v4h-1zM101,390h1v5h-1zM102,395h1v6h-1zM103,401h1v5h-1zM104,406h1v5h-1zM105,411h1v4h-1zM106,415h1v4h-1zM107,419h1v5h-1zM108,424h1v4h-1zM109,428h1v5h-1zM110,433h1v5h-1zM111,438h1v4h-1zM112,442h1v5h-1zM113,447h1v5h-1zM114,452h1v5h-1zM115,457h1v4h-1zM116,461h1v4h-1zM117,465h1v5h-1zM118,470h1v4h-1zM119,474h1v4h-1zM120,478h1v4h-1zM121,482h1v4h-1zM122,486h1v3h-1zM123,489h1v4h-1zM124,493h1v3h-1zM125,496h1v4h-1zM126,500h1v3h-1zM127,503h1v4h-1zM128,507h1v3h-1zM129,510h1v3h-1zM130,513h1v3h-1zM131,516h1v3h-1zM132,519h1v3h-1zM133,522h1v3h-1zM134,525h1v3h-1zM135,528h1v3h-1zM136,531h1v3h-1zM137,534h1v2h-1zM138,536h1v2h-1zM139,538h1v2h-1zM140,540h1v3h-1zM141,543h1v2h-1zM142,545h1v2h-1zM143,547h1v2h-1zM144,549h1v2h-1zM145,551h1v1h-1zM146,552h1v1h-1zM147,553h1v2h-1zM148,555h1v1h-1zM149,556h1v2h-1zM191,552h1v1h-1zM200,547h1v1h-1zM264,532h1v1h-1zM265,531h1v1h-1zM266,530h1v1h-1zM267,529h1v1h-1zM268,528h1v1h-1zM269,527h1v1h-1zM270,526h1v1h-1zM271,525h1v1h-1zM272,524h1v1h-1zM273,523h1v1h-1zM274,522h1v1h-1zM275,521h1v1h-1zM276,520h1v1h-1zM277,519h1v1h-1zM278,518h1v1h-1zM279,517h1v1h-1zM280,516h1v1h-1zM281,514h1v2h-1zM282,513h1v1h-1zM283,511h1v2h-1zM284,509h1v2h-1zM285,508h1v1h-1zM286,506h1v2h-1zM287,505h1v1h-1zM288,503h1v2h-1zM289,501h1v2h-1zM290,500h1v1h-1zM291,498h1v2h-1zM292,496h1v2h-1zM293,494h1v2h-1zM294,492h1v2h-1zM295,490h1v2h-1zM296,488h1v2h-1zM297,486h1v2h-1zM298,484h1v2h-1zM299,482h1v2h-1zM300,480h1v2h-1zM301,478h1v2h-1zM302,476h1v2h-1zM303,474h1v2h-1zM304,472h1v2h-1zM305,471h1v1h-1zM306,470h1v1h-1zM307,469h1v1h-1zM308,467h1v2h-1zM309,466h1v1h-1zM310,465h1v1h-1zM311,464h1v1h-1zM328,473h1v2h-1zM329,475h1v2h-1zM330,477h1v2h-1zM331,479h1v2h-1zM332,481h1v2h-1zM333,483h1v2h-1zM334,485h1v1h-1zM335,484h1v1h-1zM336,483h1v1h-1zM337,482h1v1h-1zM338,481h1v1h-1zM339,480h1v1h-1zM340,479h1v1h-1zM341,478h1v1h-1zM399,461h1v1h-1zM402,459h1v1h-1zM403,458h1v1h-1zM406,455h1v2h-1zM407,453h1v2h-1zM408,450h1v3h-1zM409,448h1v2h-1zM410,445h1v3h-1zM411,442h1v3h-1zM412,440h1v2h-1zM413,437h1v3h-1zM414,434h1v3h-1zM415,431h1v3h-1zM416,429h1v2h-1zM417,427h1v2h-1zM418,425h1v2h-1zM419,422h1v3h-1zM420,420h1v2h-1zM421,418h1v2h-1zM422,415h1v3h-1zM423,413h1v2h-1zM424,410h1v3h-1zM425,407h1v3h-1zM426,405h1v2h-1zM427,402h1v3h-1zM428,400h1v2h-1zM429,399h1v1h-1zM430,397h1v2h-1zM439,392h1v1h-1zM442,390h1v1h-1zM443,389h1v1h-1zM446,386h1v2h-1zM447,384h1v2h-1zM448,381h1v3h-1zM449,379h1v2h-1zM450,376h1v3h-1zM451,374h1v2h-1zM452,372h1v2h-1zM453,370h1v2h-1zM454,368h1v2h-1zM455,366h1v2h-1zM456,364h1v2h-1zM457,363h1v1h-1zM458,361h1v2h-1zM459,359h1v2h-1zM460,357h1v2h-1zM461,355h1v2h-1zM485,358h1v1h-1zM488,360h1v1h-1zM489,361h1v1h-1zM490,362h1v1h-1zM493,364h1v1h-1zM501,367h1v1h-1zM504,369h1v1h-1zM505,370h1v1h-1zM506,371h1v1h-1zM509,373h1v1h-1zM535,371h1v1h-1zM536,369h1v2h-1zM537,367h1v2h-1zM538,365h1v2h-1zM539,363h1v2h-1zM540,361h1v2h-1zM541,359h1v2h-1zM542,357h1v2h-1zM543,355h1v2h-1zM544,354h1v1h-1zM545,352h1v2h-1zM546,351h1v1h-1zM547,349h1v2h-1zM548,348h1v1h-1zM549,347h1v1h-1zM550,345h1v2h-1zM551,344h1v1h-1zM552,342h1v2h-1zM553,341h1v1h-1zM554,339h1v2h-1zM555,338h1v1h-1zM556,337h1v1h-1zM557,335h1v2h-1zM558,334h1v1h-1zM559,332h1v2h-1zM560,331h1v1h-1zM561,330h1v1h-1zM562,329h1v1h-1zM563,328h1v1h-1zM566,326h1v1h-1zM567,325h1v1h-1zM568,324h1v1h-1zM569,323h1v1h-1zM570,321h1v2h-1zM571,320h1v1h-1zM572,319h1v1h-1zM573,318h1v1h-1zM574,316h1v2h-1zM575,315h1v1h-1zM576,314h1v1h-1zM577,313h1v1h-1zM578,311h1v2h-1zM579,310h1v1h-1zM580,309h1v1h-1zM581,308h1v1h-1zM582,306h1v2h-1zM583,305h1v1h-1zM584,304h1v1h-1zM585,303h1v1h-1zM586,301h1v2h-1zM587,300h1v1h-1zM588,299h1v1h-1zM589,297h1v2h-1zM590,296h1v1h-1zM591,295h1v1h-1zM592,293h1v2h-1zM593,292h1v1h-1zM594,291h1v1h-1zM595,289h1v2h-1zM596,288h1v1h-1zM597,286h1v2h-1zM598,284h1v2h-1zM599,282h1v2h-1zM600,280h1v2h-1zM601,278h1v2h-1zM602,276h1v2h-1zM603,274h1v2h-1zM604,272h1v2h-1zM605,270h1v2h-1zM606,267h1v3h-1zM607,265h1v2h-1zM608,262h1v3h-1zM609,260h1v2h-1zM610,257h1v3h-1zM611,255h1v2h-1zM612,252h1v3h-1zM613,250h1v2h-1zM614,247h1v3h-1zM615,245h1v2h-1zM616,242h1v3h-1zM617,240h1v2h-1zM618,237h1v3h-1zM619,235h1v2h-1zM620,232h1v3h-1zM621,230h1v2h-1zM622,228h1v2h-1zM623,226h1v2h-1zM624,224h1v2h-1zM625,222h1v2h-1zM626,220h1v2h-1zM627,219h1v1h-1zM628,217h1v2h-1zM629,215h1v2h-1zM630,213h1v2h-1zM631,211h1v2h-1zM632,209h1v2h-1zM633,207h1v2h-1zM634,205h1v2h-1zM635,203h1v2h-1zM636,200h1v3h-1zM637,198h1v2h-1zM638,196h1v2h-1zM639,194h1v2h-1zM640,191h1v3h-1zM641,189h1v2h-1zM642,187h1v2h-1zM643,185h1v2h-1zM644,182h1v3h-1zM645,180h1v2h-1zM646,178h1v2h-1zM647,176h1v2h-1zM648,174h1v2h-1zM649,173h1v1h-1zM650,171h1v2h-1zM651,170h1v1h-1zM652,169h1v1h-1zM653,167h1v2h-1zM654,166h1v1h-1zM655,165h1v1h-1zM656,163h1v2h-1zM657,162h1v1h-1zM658,161h1v1h-1zM659,159h1v2h-1zM660,158h1v1h-1zM667,154h1v1h-1zM697,147h1v1h-1zM700,145h1v1h-1zM701,144h1v1h-1zM702,143h1v1h-1zM705,141h1v1h-1zM706,140h1v1h-1zM707,139h1v1h-1zM708,137h1v2h-1zM709,136h1v1h-1zM710,135h1v1h-1zM711,133h1v2h-1zM712,132h1v1h-1zM713,131h1v1h-1zM714,129h1v2h-1zM715,128h1v1h-1zM744,128h1v1h-1zM745,129h1v1h-1zM746,130h1v1h-1zM747,131h1v1h-1zM748,132h1v1h-1zM749,133h1v1h-1zM750,134h1v1h-1zM751,135h1v1h-1zM752,136h1v1h-1zM753,137h1v2h-1zM754,139h1v1h-1zM755,140h1v1h-1zM756,141h1v1h-1zM757,142h1v1h-1zM758,143h1v2h-1zM759,145h1v1h-1zM760,146h1v1h-1zM761,147h1v2h-1zM762,149h1v1h-1zM763,150h1v2h-1zM764,152h1v2h-1zM765,154h1v1h-1zM766,155h1v2h-1zM767,157h1v1h-1zM768,158h1v2h-1zM769,160h1v2h-1zM770,162h1v1h-1zM771,163h1v2h-1zM772,165h1v2h-1zM773,167h1v2h-1zM774,169h1v2h-1zM775,171h1v2h-1zM776,173h1v2h-1zM777,175h1v2h-1zM778,177h1v2h-1zM779,179h1v2h-1zM780,181h1v1h-1zM781,182h1v2h-1zM782,184h1v2h-1zM783,186h1v2h-1zM784,188h1v1h-1zM785,189h1v2h-1zM786,191h1v2h-1zM787,193h1v2h-1zM788,195h1v1h-1zM789,196h1v2h-1zM790,198h1v2h-1zM791,200h1v2h-1zM792,202h1v1h-1zM793,203h1v2h-1zM794,205h1v2h-1zM795,207h1v1h-1zM796,208h1v2h-1zM797,210h1v2h-1zM798,212h1v2h-1zM799,214h1v1h-1zM800,215h1v2h-1zM801,217h1v2h-1zM802,219h1v1h-1zM803,220h1v2h-1zM804,222h1v2h-1zM805,224h1v2h-1zM806,226h1v1h-1zM807,227h1v2h-1zM808,229h1v2h-1zM809,231h1v2h-1zM810,233h1v2h-1zM811,235h1v2h-1zM812,237h1v2h-1zM813,239h1v2h-1zM814,241h1v3h-1zM815,244h1v2h-1zM816,246h1v3h-1zM817,249h1v2h-1zM818,251h1v3h-1zM819,254h1v2h-1zM820,256h1v3h-1zM821,259h1v2h-1zM822,261h1v3h-1zM823,264h1v2h-1zM824,266h1v2h-1zM825,268h1v2h-1zM826,270h1v3h-1zM827,273h1v2h-1zM828,275h1v2h-1zM829,277h1v2h-1zM830,279h1v2h-1zM831,281h1v1h-1zM832,282h1v1h-1zM833,283h1v1h-1zM834,284h1v1h-1zM835,285h1v1h-1zM836,286h1v1h-1zM837,287h1v1h-1zM838,288h1v1h-1zM839,289h1v1h-1zM840,290h1v1h-1zM843,292h1v1h-1zM844,293h1v1h-1zM847,295h1v1h-1zM875,298h1v1h-1zM878,296h1v1h-1zM879,295h1v1h-1zM882,293h1v1h-1zM883,292h1v1h-1zM886,290h1v1h-1zM887,289h1v1h-1zM888,288h1v1h-1zM889,287h1v1h-1zM890,286h1v1h-1zM893,284h1v1h-1zM894,283h1v1h-1zM895,282h1v1h-1zM1103,290h1v1h-1zM1106,288h1v1h-1zM1107,287h1v1h-1zM1108,286h1v1h-1zM1111,284h1v1h-1zM1112,283h1v1h-1zM1113,282h1v1h-1zM1114,281h1v1h-1zM1115,280h1v1h-1zM1116,279h1v1h-1zM1117,278h1v1h-1zM1118,277h1v1h-1zM1121,275h1v1h-1zM1122,274h1v1h-1zM1123,273h1v1h-1zM1124,272h1v1h-1zM1125,271h1v1h-1zM1126,270h1v1h-1zM1127,269h1v1h-1zM1128,268h1v1h-1zM1129,267h1v1h-1zM1130,266h1v1h-1zM1131,265h1v1h-1zM1132,264h1v1h-1zM1135,262h1v1h-1zM1136,261h1v1h-1zM1137,260h1v1h-1zM1138,259h1v1h-1zM1139,258h1v1h-1zM1140,257h1v1h-1zM1141,255h1v2h-1zM1142,254h1v1h-1zM1143,252h1v2h-1zM1144,251h1v1h-1zM1145,249h1v2h-1zM1146,248h1v1h-1zM1147,246h1v2h-1zM1148,245h1v1h-1zM1149,243h1v2h-1zM1150,242h1v1h-1zM1151,241h1v1h-1zM1152,240h1v1h-1zM1153,239h1v1h-1zM1154,238h1v1h-1zM1155,237h1v1h-1zM1158,235h1v1h-1zM1159,234h1v1h-1zM1160,233h1v1h-1zM1161,232h1v1h-1zM1162,231h1v1h-1zM1165,229h1v1h-1zM1168,227h1v1h-1zM1171,225h1v1h-1zM1174,223h1v1h-1zM1175,222h1v1h-1zM1178,220h1v1h-1zM1179,219h1v1h-1zM1182,217h1v1h-1zM1183,216h1v1h-1zM1201,208h1v1h-1zM1206,205h1v1h-1zM1235,201h1v1h-1zM1236,202h1v1h-1zM1237,203h1v1h-1zM1240,205h1v1h-1zM1241,206h1v1h-1zM1265,216h1v1h-1zM1270,219h1v1h-1zM1271,220h1v1h-1zM1274,222h1v1h-1zM1275,223h1v1h-1zM1276,224h1v1h-1zM1279,226h1v1h-1zM1280,227h1v1h-1zM1281,228h1v1h-1zM1282,229h1v1h-1zM1283,230h1v1h-1zM1284,231h1v1h-1zM1285,232h1v1h-1zM1286,233h1v1h-1zM1287,234h1v1h-1zM1288,235h1v1h-1zM1289,236h1v1h-1zM1290,237h1v1h-1zM1291,238h1v1h-1zM1292,239h1v1h-1zM1293,240h1v1h-1zM1294,241h1v1h-1zM1297,243h1v1h-1zM1298,244h1v1h-1zM1299,245h1v1h-1zM1300,246h1v1h-1zM1305,249h1v1h-1zM1310,252h1v1h-1zM1315,255h1v1h-1zM1316,256h1v1h-1zM1317,257h1v1h-1zM1320,259h1v1h-1zM1321,260h1v1h-1zM1322,261h1v1h-1zM1323,262h1v1h-1zM1324,263h1v1h-1zM1325,264h1v1h-1zM1328,266h1v1h-1zM1329,267h1v1h-1zM1330,268h1v1h-1zM1331,269h1v1h-1zM1332,270h1v2h-1zM1333,272h1v1h-1zM1334,273h1v1h-1zM1335,274h1v1h-1zM1336,275h1v2h-1zM1337,277h1v1h-1zM1338,278h1v1h-1zM1339,279h1v1h-1zM1342,281h1v1h-1zM1343,282h1v1h-1zM1344,283h1v1h-1zM1347,285h1v1h-1zM1348,286h1v1h-1z" fill="#2bab63"/>
<rect x="0" y="263" width="1" height="3" fill="#000" />
<rect x="6" y="243" width="1" height="21" fill="#000" />
<rect x="4" y="244" width="5" height="20" fill="#000" />
<rect x="5" y="245" width="3" height="18" fill="#fff" />
<rect x="14" y="245" width="1" height="22" fill="#000" />
<rect x="12" y="247" width="5" height="17" fill="#000" />
<rect x="22" y="257" width="1" height="12" fill="#000" />
<rect x="20" y="261" width="5" height="3" fill="#000" />
<rect x="21" y="262" width="3" height="1" fill="#fff" />
<rect x="30" y="260" width="1" height="29" fill="#000" />
<rect x="28" y="261" width="5" height="25" fill="#000" />
<rect x="38" y="281" width="1" height="16" fill="#000" />
<rect x="36" y="284" width="5" height="13" fill="#000" />
<rect x="46" y="290" width="1" height="27" fill="#000" />
<rect x="44" y="295" width="5" height="14" fill="#000" />
<rect x="54" y="304" width="1" height="26" fill="#000" />
<rect x="52" y="308" width="5" height="9" fill="#000" />
<rect x="62" y="311" width="1" height="28" fill="#000" />
<rect x="60" y="315" width="5" height="24" fill="#000" />
<rect x="70" y="324" width="1" height="16" fill="#000" />
<rect x="68" y="338" width="5" height="1" fill="#000" />
<rect x="78" y="330" width="1" height="47" fill="#000" />
<rect x="76" y="337" width="5" height="27" fill="#000" />
<rect x="86" y="340" width="1" height="36" fill="#000" />
<rect x="84" y="358" width="5" height="6" fill="#000" />
<rect x="85" y="359" width="3" height="4" fill="#fff" />
<rect x="94" y="345" width="1" height="25" fill="#000" />
<rect x="92" y="358" width="5" height="11" fill="#000" />
<rect x="102" y="412" width="1" height="28" fill="#000" />
<rect x="100" y="428" width="5" height="11" fill="#000" />
<rect x="101" y="429" width="3" height="9" fill="#fff" />
<rect x="110" y="412" width="1" height="133" fill="#000" />
<rect x="108" y="427" width="5" height="74" fill="#000" />
<rect x="118" y="479" width="1" height="53" fill="#000" />
<rect x="116" y="500" width="5" height="10" fill="#000" />
<rect x="126" y="483" width="1" height="34" fill="#000" />
<rect x="124" y="509" width="5" height="2" fill="#000" />
<rect x="134" y="491" width="1" height="72" fill="#000" />
<rect x="132" y="498" width="5" height="12" fill="#000" />
<rect x="133" y="499" width="3" height="10" fill="#fff" />
<rect x="142" y="493" width="1" height="31" fill="#000" />
<rect x="140" y="498" width="5" height="6" fill="#000" />
<rect x="150" y="462" width="1" height="61" fill="#000" />
<rect x="148" y="469" width="5" height="36" fill="#000" />
<rect x="149" y="470" width="3" height="34" fill="#fff" />
<rect x="158" y="433" width="1" height="56" fill="#000" />
<rect x="156" y="439" width="5" height="31" fill="#000" />
<rect x="157" y="440" width="3" height="29" fill="#fff" />
<rect x="166" y="375" width="1" height="68" fill="#000" />
<rect x="164" y="432" width="5" height="8" fill="#000" />
<rect x="165" y="433" width="3" height="6" fill="#fff" />
<rect x="174" y="366" width="1" height="73" fill="#000" />
<rect x="172" y="392" width="5" height="41" fill="#000" />
<rect x="173" y="393" width="3" height="39" fill="#fff" />
<rect x="182" y="391" width="1" height="73" fill="#000" />
<rect x="180" y="393" width="5" height="48" fill="#000" />
<rect x="190" y="331" width="1" height="110" fill="#000" />
<rect x="188" y="351" width="5" height="90" fill="#000" />
<rect x="189" y="352" width="3" height="88" fill="#fff" />
<rect x="198" y="345" width="1" height="41" fill="#000" />
<rect x="196" y="351" width="5" height="24" fill="#000" />
<rect x="206" y="364" width="1" height="32" fill="#000" />
<rect x="204" y="375" width="5" height="15" fill="#000" />
<rect x="214" y="372" width="1" height="49" fill="#000" />
<rect x="212" y="375" width="5" height="14" fill="#000" />
<rect x="213" y="376" width="3" height="12" fill="#fff" />
<rect x="222" y="360" width="1" height="36" fill="#000" />
<rect x="220" y="375" width="5" height="15" fill="#000" />
<rect x="230" y="374" width="1" height="34" fill="#000" />
<rect x="228" y="386" width="5" height="4" fill="#000" />
<rect x="229" y="387" width="3" height="2" fill="#fff" />
<rect x="238" y="370" width="1" height="44" fill="#000" />
<rect x="236" y="386" width="5" height="5" fill="#000" />
<rect x="246" y="386" width="1" height="21" fill="#000" />
<rect x="244" y="390" width="5" height="10" fill="#000" />
<rect x="254" y="390" width="1" height="80" fill="#000" />
<rect x="252" y="395" width="5" height="61" fill="#000" />
<rect x="262" y="411" width="1" height="45" fill="#000" />
<rect x="260" y="441" width="5" height="15" fill="#000" />
<rect x="261" y="442" width="3" height="13" fill="#fff" />
<rect x="270" y="423" width="1" height="26" fill="#000" />
<rect x="268" y="438" width="5" height="4" fill="#000" />
<rect x="269" y="439" width="3" height="2" fill="#fff" />
<rect x="278" y="335" width="1" height="114" fill="#000" />
<rect x="276" y="343" width="5" height="96" fill="#000" />
<rect x="277" y="344" width="3" height="94" fill="#fff" />
<rect x="286" y="322" width="1" height="62" fill="#000" />
<rect x="284" y="344" width="5" height="17" fill="#000" />
<rect x="294" y="358" width="1" height="43" fill="#000" />
<rect x="292" y="360" width="5" height="33" fill="#000" />
<rect x="302" y="363" width="1" height="30" fill="#000" />
<rect x="300" y="379" width="5" height="14" fill="#000" />
<rect x="301" y="380" width="3" height="12" fill="#fff" />
<rect x="310" y="327" width="1" height="53" fill="#000" />
<rect x="308" y="336" width="5" height="44" fill="#000" />
<rect x="309" y="337" width="3" height="42" fill="#fff" />
<rect x="318" y="283" width="1" height="57" fill="#000" />
<rect x="316" y="284" width="5" height="52" fill="#000" />
<rect x="317" y="285" width="3" height="50" fill="#fff" />
<rect x="326" y="255" width="1" height="40" fill="#000" />
<rect x="324" y="272" width="5" height="13" fill="#000" />
<rect x="325" y="273" width="3" height="11" fill="#fff" />
<rect x="334" y="221" width="1" height="60" fill="#000" />
<rect x="332" y="223" width="5" height="50" fill="#000" />
<rect x="333" y="224" width="3" height="48" fill="#fff" />
<rect x="342" y="286" width="1" height="56" fill="#000" />
<rect x="340" y="304" width="5" height="5" fill="#000" />
<rect x="341" y="305" width="3" height="3" fill="#fff" />
<rect x="350" y="251" width="1" height="63" fill="#000" />
<rect x="348" y="284" width="5" height="20" fill="#000" />
<rect x="349" y="285" width="3" height="18" fill="#fff" />
<rect x="358" y="265" width="1" height="56" fill="#000" />
<rect x="356" y="284" width="5" height="16" fill="#000" />
<rect x="366" y="294" width="1" height="50" fill="#000" />
<rect x="364" y="299" width="5" height="45" fill="#000" />
<rect x="374" y="304" width="1" height="66" fill="#000" />
<rect x="372" y="342" width="5" height="2" fill="#000" />
<rect x="382" y="306" width="1" height="42" fill="#000" />
<rect x="380" y="336" width="5" height="8" fill="#000" />
<rect x="381" y="337" width="3" height="6" fill="#fff" />
<rect x="390" y="310" width="1" height="28" fill="#000" />
<rect x="388" y="317" width="5" height="19" fill="#000" />
<rect x="389" y="318" width="3" height="17" fill="#fff" />
<rect x="398" y="270" width="1" height="55" fill="#000" />
<rect x="396" y="303" width="5" height="15" fill="#000" />
<rect x="397" y="304" width="3" height="13" fill="#fff" />
<rect x="406" y="284" width="1" height="33" fill="#000" />
<rect x="404" y="284" width="5" height="20" fill="#000" />
<rect x="405" y="285" width="3" height="18" fill="#fff" />
<rect x="414" y="272" width="1" height="42" fill="#000" />
<rect x="412" y="285" width="5" height="7" fill="#000" />
<rect x="422" y="250" width="1" height="44" fill="#000" />
<rect x="420" y="259" width="5" height="33" fill="#000" />
<rect x="421" y="260" width="3" height="31" fill="#fff" />
<rect x="430" y="237" width="1" height="32" fill="#000" />
<rect x="428" y="246" width="5" height="14" fill="#000" />
<rect x="429" y="247" width="3" height="12" fill="#fff" />
<rect x="438" y="243" width="1" height="26" fill="#000" />
<rect x="436" y="245" width="5" height="16" fill="#000" />
<rect x="446" y="251" width="1" height="26" fill="#000" />
<rect x="444" y="261" width="5" height="13" fill="#000" />
<rect x="454" y="259" width="1" height="33" fill="#000" />
<rect x="452" y="259" width="5" height="15" fill="#000" />
<rect x="453" y="260" width="3" height="13" fill="#fff" />
<rect x="462" y="249" width="1" height="26" fill="#000" />
<rect x="460" y="258" width="5" height="8" fill="#000" />
<rect x="470" y="206" width="1" height="60" fill="#000" />
<rect x="468" y="209" width="5" height="57" fill="#000" />
<rect x="469" y="210" width="3" height="55" fill="#fff" />
<rect x="478" y="198" width="1" height="45" fill="#000" />
<rect x="476" y="209" width="5" height="17" fill="#000" />
<rect x="486" y="210" width="1" height="23" fill="#000" />
<rect x="484" y="212" width="5" height="14" fill="#000" />
<rect x="485" y="213" width="3" height="12" fill="#fff" />
<rect x="494" y="158" width="1" height="64" fill="#000" />
<rect x="492" y="167" width="5" height="47" fill="#000" />
<rect x="493" y="168" width="3" height="45" fill="#fff" />
<rect x="502" y="155" width="1" height="54" fill="#000" />
<rect x="500" y="168" width="5" height="8" fill="#000" />
<rect x="510" y="135" width="1" height="56" fill="#000" />
<rect x="508" y="138" width="5" height="37" fill="#000" />
<rect x="509" y="139" width="3" height="35" fill="#fff" />
<rect x="518" y="124" width="1" height="33" fill="#000" />
<rect x="516" y="129" width="5" height="10" fill="#000" />
<rect x="517" y="130" width="3" height="8" fill="#fff" />
<rect x="526" y="86" width="1" height="47" fill="#000" />
<rect x="524" y="97" width="5" height="33" fill="#000" />
<rect x="525" y="98" width="3" height="31" fill="#fff" />
<rect x="534" y="67" width="1" height="45" fill="#000" />
<rect x="532" y="69" width="5" height="29" fill="#000" />
<rect x="533" y="70" width="3" height="27" fill="#fff" />
<rect x="542" y="68" width="1" height="66" fill="#000" />
<rect x="540" y="68" width="5" height="58" fill="#000" />
<rect x="550" y="121" width="1" height="46" fill="#000" />
<rect x="548" y="124" width="5" height="34" fill="#000" />
<rect x="558" y="119" width="1" height="40" fill="#000" />
<rect x="556" y="128" width="5" height="30" fill="#000" />
<rect x="557" y="129" width="3" height="28" fill="#fff" />
<rect x="566" y="65" width="1" height="73" fill="#000" />
<rect x="564" y="70" width="5" height="59" fill="#000" />
<rect x="565" y="71" width="3" height="57" fill="#fff" />
<rect x="574" y="60" width="1" height="33" fill="#000" />
<rect x="572" y="69" width="5" height="8" fill="#000" />
<rect x="582" y="80" width="1" height="40" fill="#000" />
<rect x="580" y="81" width="5" height="34" fill="#000" />
<rect x="590" y="95" width="1" height="39" fill="#000" />
<rect x="588" y="114" width="5" height="7" fill="#000" />
<rect x="598" y="118" width="1" height="32" fill="#000" />
<rect x="596" y="119" width="5" height="3" fill="#000" />
<rect x="606" y="90" width="1" height="40" fill="#000" />
<rect x="604" y="94" width="5" height="29" fill="#000" />
<rect x="605" y="95" width="3" height="27" fill="#fff" />
<rect x="614" y="66" width="1" height="77" fill="#000" />
<rect x="612" y="67" width="5" height="27" fill="#000" />
<rect x="613" y="68" width="3" height="25" fill="#fff" />
<rect x="622" y="55" width="1" height="24" fill="#000" />
<rect x="620" y="67" width="5" height="4" fill="#000" />
<rect x="630" y="67" width="1" height="29" fill="#000" />
<rect x="628" y="69" width="5" height="25" fill="#000" />
<rect x="638" y="85" width="1" height="44" fill="#000" />
<rect x="636" y="93" width="5" height="26" fill="#000" />
<rect x="646" y="99" width="1" height="29" fill="#000" />
<rect x="644" y="107" width="5" height="12" fill="#000" />
<rect x="645" y="108" width="3" height="10" fill="#fff" />
<rect x="654" y="87" width="1" height="33" fill="#000" />
<rect x="652" y="92" width="5" height="16" fill="#000" />
<rect x="653" y="93" width="3" height="14" fill="#fff" />
<rect x="662" y="60" width="1" height="45" fill="#000" />
<rect x="660" y="63" width="5" height="30" fill="#000" />
<rect x="661" y="64" width="3" height="28" fill="#fff" />
<rect x="670" y="49" width="1" height="22" fill="#000" />
<rect x="668" y="60" width="5" height="3" fill="#000" />
<rect x="669" y="61" width="3" height="1" fill="#fff" />
<rect x="678" y="58" width="1" height="25" fill="#000" />
<rect x="676" y="60" width="5" height="19" fill="#000" />
<rect x="686" y="71" width="1" height="26" fill="#000" />
<rect x="684" y="79" width="5" height="1" fill="#000" />
<rect x="694" y="60" width="1" height="22" fill="#000" />
<rect x="692" y="62" width="5" height="18" fill="#000" />
<rect x="693" y="63" width="3" height="16" fill="#fff" />
<rect x="702" y="61" width="1" height="21" fill="#000" />
<rect x="700" y="62" width="5" height="11" fill="#000" />
<rect x="710" y="51" width="1" height="23" fill="#000" />
<rect x="708" y="62" width="5" height="10" fill="#000" />
<rect x="709" y="63" width="3" height="8" fill="#fff" />
<rect x="718" y="55" width="1" height="26" fill="#000" />
<rect x="716" y="64" width="5" height="13" fill="#000" />
<rect x="726" y="72" width="1" height="22" fill="#000" />
<rect x="724" y="76" width="5" height="18" fill="#000" />
<rect x="734" y="89" width="1" height="23" fill="#000" />
<rect x="732" y="90" width="5" height="10" fill="#000" />
<rect x="742" y="91" width="1" height="25" fill="#000" />
<rect x="740" y="99" width="5" height="12" fill="#000" />
<rect x="750" y="108" width="1" height="46" fill="#000" />
<rect x="748" y="109" width="5" height="39" fill="#000" />
<rect x="758" y="129" width="1" height="36" fill="#000" />
<rect x="756" y="146" width="5" height="15" fill="#000" />
<rect x="766" y="144" width="1" height="28" fill="#000" />
<rect x="764" y="159" width="5" height="6" fill="#000" />
<rect x="774" y="151" width="1" height="27" fill="#000" />
<rect x="772" y="162" width="5" height="14" fill="#000" />
<rect x="782" y="162" width="1" height="56" fill="#000" />
<rect x="780" y="173" width="5" height="39" fill="#000" />
<rect x="790" y="181" width="1" height="39" fill="#000" />
<rect x="788" y="187" width="5" height="24" fill="#000" />
<rect x="789" y="188" width="3" height="22" fill="#fff" />
<rect x="798" y="178" width="1" height="27" fill="#000" />
<rect x="796" y="186" width="5" height="5" fill="#000" />
<rect x="806" y="186" width="1" height="51" fill="#000" />
<rect x="804" y="190" width="5" height="33" fill="#000" />
<rect x="814" y="221" width="1" height="21" fill="#000" />
<rect x="812" y="222" width="5" height="20" fill="#000" />
<rect x="822" y="241" width="1" height="21" fill="#000" />
<rect x="820" y="247" width="5" height="11" fill="#000" />
<rect x="830" y="241" width="1" height="33" fill="#000" />
<rect x="828" y="256" width="5" height="8" fill="#000" />
<rect x="838" y="218" width="1" height="46" fill="#000" />
<rect x="836" y="231" width="5" height="32" fill="#000" />
<rect x="837" y="232" width="3" height="30" fill="#fff" />
<rect x="846" y="227" width="1" height="29" fill="#000" />
<rect x="844" y="231" width="5" height="1" fill="#000" />
<rect x="854" y="216" width="1" height="32" fill="#000" />
<rect x="852" y="227" width="5" height="5" fill="#000" />
<rect x="853" y="228" width="3" height="3" fill="#fff" />
<rect x="862" y="225" width="1" height="18" fill="#000" />
<rect x="860" y="227" width="5" height="16" fill="#000" />
<rect x="870" y="220" width="1" height="25" fill="#000" />
<rect x="868" y="227" width="5" height="16" fill="#000" />
<rect x="869" y="228" width="3" height="14" fill="#fff" />
<rect x="878" y="195" width="1" height="40" fill="#000" />
<rect x="876" y="211" width="5" height="16" fill="#000" />
<rect x="877" y="212" width="3" height="14" fill="#fff" />
<rect x="886" y="200" width="1" height="27" fill="#000" />
<rect x="884" y="210" width="5" height="1" fill="#000" />
<rect x="894" y="195" width="1" height="22" fill="#000" />
<rect x="892" y="203" width="5" height="8" fill="#000" />
<rect x="893" y="204" width="3" height="6" fill="#fff" />
<rect x="902" y="200" width="1" height="57" fill="#000" />
<rect x="900" y="203" width="5" height="51" fill="#000" />
<rect x="910" y="232" width="1" height="24" fill="#000" />
<rect x="908" y="252" width="5" height="4" fill="#000" />
<rect x="918" y="242" width="1" height="18" fill="#000" />
<rect x="916" y="254" width="5" height="1" fill="#000" />
<rect x="926" y="233" width="1" height="34" fill="#000" />
<rect x="924" y="240" width="5" height="15" fill="#000" />
<rect x="925" y="241" width="3" height="13" fill="#fff" />
<rect x="934" y="238" width="1" height="28" fill="#000" />
<rect x="932" y="240" width="5" height="9" fill="#000" />
<rect x="942" y="240" width="1" height="15" fill="#000" />
<rect x="940" y="247" width="5" height="8" fill="#000" />
<rect x="950" y="249" width="1" height="29" fill="#000" />
<rect x="948" y="253" width="5" height="25" fill="#000" />
<rect x="958" y="263" width="1" height="21" fill="#000" />
<rect x="956" y="270" width="5" height="8" fill="#000" />
<rect x="957" y="271" width="3" height="6" fill="#fff" />
<rect x="966" y="263" width="1" height="15" fill="#000" />
<rect x="964" y="265" width="5" height="8" fill="#000" />
<rect x="965" y="266" width="3" height="6" fill="#fff" />
<rect x="974" y="251" width="1" height="22" fill="#000" />
<rect x="972" y="258" width="5" height="9" fill="#000" />
<rect x="973" y="259" width="3" height="7" fill="#fff" />
<rect x="982" y="254" width="1" height="19" fill="#000" />
<rect x="980" y="258" width="5" height="9" fill="#000" />
<rect x="990" y="257" width="1" height="10" fill="#000" />
<rect x="988" y="263" width="5" height="3" fill="#000" />
<rect x="998" y="228" width="1" height="51" fill="#000" />
<rect x="996" y="237" width="5" height="27" fill="#000" />
<rect x="997" y="238" width="3" height="25" fill="#fff" />
<rect x="1006" y="225" width="1" height="14" fill="#000" />
<rect x="1004" y="234" width="5" height="5" fill="#000" />
<rect x="1005" y="235" width="3" height="3" fill="#fff" />
<rect x="1014" y="220" width="1" height="20" fill="#000" />
<rect x="1012" y="229" width="5" height="7" fill="#000" />
<rect x="1013" y="230" width="3" height="5" fill="#fff" />
<rect x="1022" y="224" width="1" height="17" fill="#000" />
<rect x="1020" y="229" width="5" height="4" fill="#000" />
<rect x="1030" y="216" width="1" height="24" fill="#000" />
<rect x="1028" y="220" width="5" height="13" fill="#000" />
<rect x="1029" y="221" width="3" height="11" fill="#fff" />
<rect x="1038" y="201" width="1" height="24" fill="#000" />
<rect x="1036" y="206" width="5" height="14" fill="#000" />
<rect x="1037" y="207" width="3" height="12" fill="#fff" />
<rect x="1046" y="197" width="1" height="22" fill="#000" />
<rect x="1044" y="205" width="5" height="3" fill="#000" />
<rect x="1045" y="206" width="3" height="1" fill="#fff" />
<rect x="1054" y="204" width="1" height="18" fill="#000" />
<rect x="1052" y="205" width="5" height="14" fill="#000" />
<rect x="1062" y="194" width="1" height="15" fill="#000" />
<rect x="1060" y="195" width="5" height="14" fill="#000" />
<rect x="1061" y="196" width="3" height="12" fill="#fff" />
<rect x="1070" y="177" width="1" height="22" fill="#000" />
<rect x="1068" y="189" width="5" height="9" fill="#000" />
<rect x="1069" y="190" width="3" height="7" fill="#fff" />
<rect x="1078" y="163" width="1" height="28" fill="#000" />
<rect x="1076" y="173" width="5" height="16" fill="#000" />
<rect x="1077" y="174" width="3" height="14" fill="#fff" />
<rect x="1086" y="167" width="1" height="20" fill="#000" />
<rect x="1084" y="175" width="5" height="12" fill="#000" />
<rect x="1094" y="173" width="1" height="17" fill="#000" />
<rect x="1092" y="176" width="5" height="10" fill="#000" />
<rect x="1093" y="177" width="3" height="8" fill="#fff" />
<rect x="1102" y="169" width="1" height="17" fill="#000" />
<rect x="1100" y="174" width="5" height="3" fill="#000" />
<rect x="1101" y="175" width="3" height="1" fill="#fff" />
<rect x="1110" y="168" width="1" height="8" fill="#000" />
<rect x="1108" y="174" width="5" height="1" fill="#000" />
<rect x="1118" y="175" width="1" height="21" fill="#000" />
<rect x="1116" y="175" width="5" height="19" fill="#000" />
<rect x="1126" y="185" width="1" height="13" fill="#000" />
<rect x="1124" y="187" width="5" height="6" fill="#000" />
<rect x="1125" y="188" width="3" height="4" fill="#fff" />
<rect x="1134" y="174" width="1" height="16" fill="#000" />
<rect x="1132" y="184" width="5" height="1" fill="#000" />
<rect x="1142" y="177" width="1" height="10" fill="#000" />
<rect x="1140" y="183" width="5" height="1" fill="#000" />
<rect x="1150" y="182" width="1" height="10" fill="#000" />
<rect x="1148" y="183" width="5" height="9" fill="#000" />
<rect x="1158" y="189" width="1" height="12" fill="#000" />
<rect x="1156" y="193" width="5" height="4" fill="#000" />
<rect x="1166" y="188" width="1" height="18" fill="#000" />
<rect x="1164" y="189" width="5" height="10" fill="#000" />
<rect x="1165" y="190" width="3" height="8" fill="#fff" />
<rect x="1174" y="181" width="1" height="14" fill="#000" />
<rect x="1172" y="189" width="5" height="1" fill="#000" />
<rect x="1182" y="184" width="1" height="11" fill="#000" />
<rect x="1180" y="186" width="5" height="4" fill="#000" />
<rect x="1181" y="187" width="3" height="2" fill="#fff" />
<rect x="1190" y="177" width="1" height="25" fill="#000" />
<rect x="1188" y="186" width="5" height="11" fill="#000" />
<rect x="1198" y="188" width="1" height="13" fill="#000" />
<rect x="1196" y="189" width="5" height="8" fill="#000" />
<rect x="1197" y="190" width="3" height="6" fill="#fff" />
<rect x="1206" y="182" width="1" height="10" fill="#000" />
<rect x="1204" y="185" width="5" height="5" fill="#000" />
<rect x="1205" y="186" width="3" height="3" fill="#fff" />
<rect x="1214" y="178" width="1" height="13" fill="#000" />
<rect x="1212" y="183" width="5" height="2" fill="#000" />
<rect x="1222" y="181" width="1" height="7" fill="#000" />
<rect x="1220" y="183" width="5" height="3" fill="#000" />
<rect x="1230" y="183" width="1" height="13" fill="#000" />
<rect x="1228" y="185" width="5" height="3" fill="#000" />
<rect x="1238" y="186" width="1" height="28" fill="#000" />
<rect x="1236" y="187" width="5" height="26" fill="#000" />
<rect x="1246" y="206" width="1" height="15" fill="#000" />
<rect x="1244" y="211" width="5" height="1" fill="#000" />
<rect x="1254" y="205" width="1" height="8" fill="#000" />
<rect x="1252" y="209" width="5" height="3" fill="#000" />
<rect x="1253" y="210" width="3" height="1" fill="#fff" />
<rect x="1262" y="211" width="1" height="8" fill="#000" />
<rect x="1260" y="213" width="5" height="1" fill="#000" />
<rect x="1270" y="212" width="1" height="19" fill="#000" />
<rect x="1268" y="213" width="5" height="16" fill="#000" />
<rect x="1278" y="227" width="1" height="13" fill="#000" />
<rect x="1276" y="227" width="5" height="10" fill="#000" />
<rect x="1286" y="226" width="1" height="13" fill="#000" />
<rect x="1284" y="235" width="5" height="3" fill="#000" />
<rect x="1294" y="231" width="1" height="19" fill="#000" />
<rect x="1292" y="237" width="5" height="13" fill="#000" />
<rect x="1302" y="247" width="1" height="6" fill="#000" />
<rect x="1300" y="248" width="5" height="4" fill="#000" />
<rect x="1301" y="249" width="3" height="2" fill="#fff" />
<rect x="1310" y="241" width="1" height="13" fill="#000" />
<rect x="1308" y="248" width="5" height="5" fill="#000" />
<rect x="1318" y="247" width="1" height="7" fill="#000" />
<rect x="1316" y="249" width="5" height="4" fill="#000" />
<rect x="1317" y="250" width="3" height="2" fill="#fff" />
<rect x="1326" y="242" width="1" height="13" fill="#000" />
<rect x="1324" y="250" width="5" height="5" fill="#000" />
<rect x="1334" y="250" width="1" height="15" fill="#000" />
<rect x="1332" y="252" width="5" height="13" fill="#000" />
<rect x="1342" y="257" width="1" height="20" fill="#000" />
<rect x="1340" y="264" width="5" height="12" fill="#000" />
<rect x="1350" y="268" width="1" height="13" fill="#000" />
<rect x="1348" y="272" width="5" height="1" fill="#000" />
<rect x="1358" y="268" width="1" height="5" fill="#000" />
<rect x="1356" y="271" width="5" height="2" fill="#000" />
<rect x="1366" y="269" width="1" height="3" fill="#000" />
<rect x="1364" y="270" width="5" height="2" fill="#000" />
</g>
<g shape-rendering="crispEdges">
<rect x="1193" y="246" width="199" height="10" fill="#00ff00" />
<rect x="-2" y="208" width="5" height="5" fill="#ff0000" />
<rect x="-1" y="209" width="3" height="3" fill="#fff" />
<rect x="1602" y="208" width="5" height="5" fill="#ff0000" />
<rect x="1603" y="209" width="3" height="3" fill="#fff" />
<rect x="-2" y="230" width="5" height="5" fill="#ff0000" />
<rect x="-1" y="231" width="3" height="3" fill="#fff" />
<rect x="1602" y="230" width="5" height="5" fill="#ff0000" />
<rect x="1603" y="231" width="3" height="3" fill="#fff" />
<rect x="-2" y="251" width="5" height="5" fill="#32cd32" />
<rect x="-1" y="252" width="3" height="3" fill="#fff" />
<rect x="1602" y="251" width="5" height="5" fill="#32cd32" />
<rect x="1603" y="252" width="3" height="3" fill="#fff" />
<rect x="-2" y="325" width="5" height="5" fill="#0000ff" />
<rect x="-1" y="326" width="3" height="3" fill="#fff" />
<rect x="1602" y="325" width="5" height="5" fill="#0000ff" />
<rect x="1603" y="326" width="3" height="3" fill="#fff" />
</g>
<text x="1387" y="227.5" font-size="32" fill="#0b4f0b" font-family='"Liberation Serif", "Noto Serif CJK SC", serif' textLength="164" lengthAdjust="spacingAndGlyphs" font-weight="600" >多空转折点</text>
<text x="1386" y="226.5" font-size="32" fill="#10ff00" font-family='"Liberation Serif", "Noto Serif CJK SC", serif' textLength="164" lengthAdjust="spacingAndGlyphs" font-weight="600" >多空转折点</text>
<line x1="700.1" y1="56.2" x2="954.1" y2="267.4" stroke="#ff0000" stroke-width="3" shape-rendering="crispEdges"/>
<polygon points="961.0,273.2 949.3,270.0 955.7,262.3" fill="#ff0000" shape-rendering="crispEdges"/>
<line x1="961" y1="273.2" x2="1083.5" y2="178.3" stroke="#ff0000" stroke-width="3" shape-rendering="crispEdges"/>
<polygon points="1090.6,172.8 1085.0,183.5 1078.8,175.6" fill="#ff0000" shape-rendering="crispEdges"/>
<polygon points="957,270 965,270 963,274.5 961,275.2 959,274.5" fill="#ff0000" shape-rendering="crispEdges"/>
<line x1="1091.5" y1="168" x2="1472.7" y2="325.0" stroke="#ff0000" stroke-width="3" shape-rendering="crispEdges"/>
<polygon points="1481.0,328.4 1468.9,328.8 1472.7,319.6" fill="#ff0000" shape-rendering="crispEdges"/>
<g shape-rendering="crispEdges">
<rect x="1510" y="253" width="9" height="1" fill="#ff0000" />
<rect x="1518" y="251" width="4" height="4" fill="#ff0000" />
<rect x="1519" y="252" width="2" height="2" fill="#fff" />
<rect x="1521" y="241" width="75" height="25" fill="#ff0000" />
<rect x="1522" y="242" width="73" height="23" fill="#fff" />
</g>
<text x="1524" y="261" font-size="20.5" fill="#ff0000" font-family='"Liberation Sans", "Noto Sans CJK SC", sans-serif' textLength="69" lengthAdjust="spacingAndGlyphs" >107.519</text>
<g shape-rendering="crispEdges">
<rect x="0" y="22" width="1608" height="1" fill="#000" />
<rect x="1607" y="22" width="1" height="902" fill="#000" />
<rect x="0" y="575" width="1608" height="1" fill="#000" />
<rect x="0" y="576" width="1608" height="1" fill="#fff" />
<rect x="0" y="577" width="1608" height="1" fill="#000" />
<rect x="0" y="747" width="1608" height="1" fill="#000" />
<rect x="0" y="748" width="1608" height="1" fill="#fff" />
<rect x="0" y="749" width="1608" height="1" fill="#000" />
<rect x="0" y="923" width="1608" height="1" fill="#000" />
<rect x="1653" y="20" width="1" height="925" fill="#e3e3e3" />
<rect x="0" y="944" width="1654" height="1" fill="#e3e3e3" />
<polygon points="1375,23 1386,23 1380.5,28.5" fill="#b4b4b4"/>
</g>
<rect x="1608" y="44" width="2" height="1" fill="#000" shape-rendering="crispEdges"/>
<text x="1613.5" y="48" font-size="9.8" fill="#000" font-family='"Liberation Sans", "Noto Sans CJK SC", sans-serif' textLength="32.5" lengthAdjust="spacingAndGlyphs" stroke="#000" stroke-width="0.15">111.810</text>
<rect x="1608" y="77" width="2" height="1" fill="#000" shape-rendering="crispEdges"/>
<text x="1613.5" y="81" font-size="9.8" fill="#000" font-family='"Liberation Sans", "Noto Sans CJK SC", sans-serif' textLength="32.5" lengthAdjust="spacingAndGlyphs" stroke="#000" stroke-width="0.15">111.130</text>
<rect x="1608" y="110" width="2" height="1" fill="#000" shape-rendering="crispEdges"/>
<text x="1613.5" y="114" font-size="9.8" fill="#000" font-family='"Liberation Sans", "Noto Sans CJK SC", sans-serif' textLength="32.5" lengthAdjust="spacingAndGlyphs" stroke="#000" stroke-width="0.15">110.470</text>
<rect x="1608" y="143" width="2" height="1" fill="#000" shape-rendering="crispEdges"/>
<text x="1613.5" y="147" font-size="9.8" fill="#000" font-family='"Liberation Sans", "Noto Sans CJK SC", sans-serif' textLength="32.5" lengthAdjust="spacingAndGlyphs" stroke="#000" stroke-width="0.15">109.790</text>
<rect x="1608" y="176" width="2" height="1" fill="#000" shape-rendering="crispEdges"/>
<text x="1613.5" y="180" font-size="9.8" fill="#000" font-family='"Liberation Sans", "Noto Sans CJK SC", sans-serif' textLength="32.5" lengthAdjust="spacingAndGlyphs" stroke="#000" stroke-width="0.15">109.110</text>
<rect x="1608" y="209" width="2" height="1" fill="#000" shape-rendering="crispEdges"/>
<text x="1613.5" y="213" font-size="9.8" fill="#000" font-family='"Liberation Sans", "Noto Sans CJK SC", sans-serif' textLength="32.5" lengthAdjust="spacingAndGlyphs" stroke="#000" stroke-width="0.15">108.430</text>
<rect x="1608" y="242" width="2" height="1" fill="#000" shape-rendering="crispEdges"/>
<text x="1613.5" y="246" font-size="9.8" fill="#000" font-family='"Liberation Sans", "Noto Sans CJK SC", sans-serif' textLength="32.5" lengthAdjust="spacingAndGlyphs" stroke="#000" stroke-width="0.15">107.750</text>
<rect x="1608" y="275" width="2" height="1" fill="#000" shape-rendering="crispEdges"/>
<text x="1613.5" y="279" font-size="9.8" fill="#000" font-family='"Liberation Sans", "Noto Sans CJK SC", sans-serif' textLength="32.5" lengthAdjust="spacingAndGlyphs" stroke="#000" stroke-width="0.15">107.070</text>
<rect x="1608" y="308" width="2" height="1" fill="#000" shape-rendering="crispEdges"/>
<text x="1613.5" y="312" font-size="9.8" fill="#000" font-family='"Liberation Sans", "Noto Sans CJK SC", sans-serif' textLength="32.5" lengthAdjust="spacingAndGlyphs" stroke="#000" stroke-width="0.15">106.390</text>
<rect x="1608" y="341" width="2" height="1" fill="#000" shape-rendering="crispEdges"/>
<text x="1613.5" y="345" font-size="9.8" fill="#000" font-family='"Liberation Sans", "Noto Sans CJK SC", sans-serif' textLength="32.5" lengthAdjust="spacingAndGlyphs" stroke="#000" stroke-width="0.15">105.710</text>
<rect x="1608" y="374" width="2" height="1" fill="#000" shape-rendering="crispEdges"/>
<text x="1613.5" y="378" font-size="9.8" fill="#000" font-family='"Liberation Sans", "Noto Sans CJK SC", sans-serif' textLength="32.5" lengthAdjust="spacingAndGlyphs" stroke="#000" stroke-width="0.15">105.030</text>
<rect x="1608" y="407" width="2" height="1" fill="#000" shape-rendering="crispEdges"/>
<text x="1613.5" y="411" font-size="9.8" fill="#000" font-family='"Liberation Sans", "Noto Sans CJK SC", sans-serif' textLength="32.5" lengthAdjust="spacingAndGlyphs" stroke="#000" stroke-width="0.15">104.350</text>
<rect x="1608" y="440" width="2" height="1" fill="#000" shape-rendering="crispEdges"/>
<text x="1613.5" y="444" font-size="9.8" fill="#000" font-family='"Liberation Sans", "Noto Sans CJK SC", sans-serif' textLength="32.5" lengthAdjust="spacingAndGlyphs" stroke="#000" stroke-width="0.15">103.670</text>
<rect x="1608" y="473" width="2" height="1" fill="#000" shape-rendering="crispEdges"/>
<text x="1613.5" y="477" font-size="9.8" fill="#000" font-family='"Liberation Sans", "Noto Sans CJK SC", sans-serif' textLength="32.5" lengthAdjust="spacingAndGlyphs" stroke="#000" stroke-width="0.15">102.990</text>
<rect x="1608" y="506" width="2" height="1" fill="#000" shape-rendering="crispEdges"/>
<text x="1613.5" y="510" font-size="9.8" fill="#000" font-family='"Liberation Sans", "Noto Sans CJK SC", sans-serif' textLength="32.5" lengthAdjust="spacingAndGlyphs" stroke="#000" stroke-width="0.15">102.310</text>
<rect x="1608" y="539" width="2" height="1" fill="#000" shape-rendering="crispEdges"/>
<text x="1613.5" y="543" font-size="9.8" fill="#000" font-family='"Liberation Sans", "Noto Sans CJK SC", sans-serif' textLength="32.5" lengthAdjust="spacingAndGlyphs" stroke="#000" stroke-width="0.15">101.630</text>
<rect x="1608" y="572" width="2" height="1" fill="#000" shape-rendering="crispEdges"/>
<text x="1613.5" y="576" font-size="9.8" fill="#000" font-family='"Liberation Sans", "Noto Sans CJK SC", sans-serif' textLength="32.5" lengthAdjust="spacingAndGlyphs" stroke="#000" stroke-width="0.15">100.970</text>
<rect x="1609" y="204" width="41" height="11" fill="#ff0000" shape-rendering="crispEdges"/>
<text x="1613.5" y="212.8" font-size="9.8" fill="#fff" font-family='"Liberation Sans", "Noto Sans CJK SC", sans-serif' textLength="32.5" lengthAdjust="spacingAndGlyphs" stroke="#fff" stroke-width="0.15">108.401</text>
<rect x="1609" y="226" width="41" height="11" fill="#ff0000" shape-rendering="crispEdges"/>
<text x="1613.5" y="234.8" font-size="9.8" fill="#fff" font-family='"Liberation Sans", "Noto Sans CJK SC", sans-serif' textLength="32.5" lengthAdjust="spacingAndGlyphs" stroke="#fff" stroke-width="0.15">107.949</text>
<rect x="1609" y="247" width="41" height="11" fill="#32cd32" shape-rendering="crispEdges"/>
<text x="1613.5" y="255.8" font-size="9.8" fill="#fff" font-family='"Liberation Sans", "Noto Sans CJK SC", sans-serif' textLength="32.5" lengthAdjust="spacingAndGlyphs" stroke="#fff" stroke-width="0.15">107.519</text>
<rect x="1609" y="265" width="41" height="11" fill="#000" shape-rendering="crispEdges"/>
<text x="1613.5" y="273.8" font-size="9.8" fill="#fff" font-family='"Liberation Sans", "Noto Sans CJK SC", sans-serif' textLength="32.5" lengthAdjust="spacingAndGlyphs" stroke="#fff" stroke-width="0.15">107.165</text>
<rect x="1609" y="298" width="41" height="11" fill="#0000ff" shape-rendering="crispEdges"/>
<text x="1613.5" y="306.8" font-size="9.8" fill="#fff" font-family='"Liberation Sans", "Noto Sans CJK SC", sans-serif' textLength="32.5" lengthAdjust="spacingAndGlyphs" stroke="#fff" stroke-width="0.15">106.472</text>
<rect x="1609" y="321" width="41" height="11" fill="#0000ff" shape-rendering="crispEdges"/>
<text x="1613.5" y="329.8" font-size="9.8" fill="#fff" font-family='"Liberation Sans", "Noto Sans CJK SC", sans-serif' textLength="32.5" lengthAdjust="spacingAndGlyphs" stroke="#fff" stroke-width="0.15">105.991</text>
<g clip-path="url(#c2)" shape-rendering="crispEdges">
<rect x="6" y="655" width="1" height="29" fill="#c0c0c0" />
<rect x="14" y="655" width="1" height="29" fill="#c0c0c0" />
<rect x="22" y="655" width="1" height="27" fill="#c0c0c0" />
<rect x="30" y="655" width="1" height="28" fill="#c0c0c0" />
<rect x="38" y="655" width="1" height="30" fill="#c0c0c0" />
<rect x="46" y="655" width="1" height="31" fill="#c0c0c0" />
<rect x="54" y="655" width="1" height="33" fill="#c0c0c0" />
<rect x="62" y="655" width="1" height="37" fill="#c0c0c0" />
<rect x="70" y="655" width="1" height="39" fill="#c0c0c0" />
<rect x="78" y="655" width="1" height="42" fill="#c0c0c0" />
<rect x="86" y="655" width="1" height="44" fill="#c0c0c0" />
<rect x="94" y="655" width="1" height="46" fill="#c0c0c0" />
<rect x="102" y="655" width="1" height="53" fill="#c0c0c0" />
<rect x="110" y="655" width="1" height="64" fill="#c0c0c0" />
<rect x="118" y="655" width="1" height="73" fill="#c0c0c0" />
<rect x="126" y="655" width="1" height="79" fill="#c0c0c0" />
<rect x="134" y="655" width="1" height="82" fill="#c0c0c0" />
<rect x="142" y="655" width="1" height="84" fill="#c0c0c0" />
<rect x="150" y="655" width="1" height="81" fill="#c0c0c0" />
<rect x="158" y="655" width="1" height="75" fill="#c0c0c0" />
<rect x="166" y="655" width="1" height="69" fill="#c0c0c0" />
<rect x="174" y="655" width="1" height="60" fill="#c0c0c0" />
<rect x="182" y="655" width="1" height="56" fill="#c0c0c0" />
<rect x="190" y="655" width="1" height="45" fill="#c0c0c0" />
<rect x="198" y="655" width="1" height="37" fill="#c0c0c0" />
<rect x="206" y="655" width="1" height="32" fill="#c0c0c0" />
<rect x="214" y="655" width="1" height="27" fill="#c0c0c0" />
<rect x="222" y="655" width="1" height="23" fill="#c0c0c0" />
<rect x="230" y="655" width="1" height="20" fill="#c0c0c0" />
<rect x="238" y="655" width="1" height="18" fill="#c0c0c0" />
<rect x="246" y="655" width="1" height="16" fill="#c0c0c0" />
<rect x="254" y="655" width="1" height="21" fill="#c0c0c0" />
<rect x="262" y="655" width="1" height="22" fill="#c0c0c0" />
<rect x="270" y="655" width="1" height="22" fill="#c0c0c0" />
<rect x="278" y="655" width="1" height="15" fill="#c0c0c0" />
<rect x="286" y="655" width="1" height="9" fill="#c0c0c0" />
<rect x="294" y="655" width="1" height="8" fill="#c0c0c0" />
<rect x="302" y="655" width="1" height="6" fill="#c0c0c0" />
<rect x="310" y="655" width="1" height="1" fill="#c0c0c0" />
<rect x="318" y="646" width="1" height="10" fill="#c0c0c0" />
<rect x="326" y="638" width="1" height="18" fill="#c0c0c0" />
<rect x="334" y="627" width="1" height="29" fill="#c0c0c0" />
<rect x="342" y="626" width="1" height="30" fill="#c0c0c0" />
<rect x="350" y="624" width="1" height="32" fill="#c0c0c0" />
<rect x="358" y="624" width="1" height="32" fill="#c0c0c0" />
<rect x="366" y="629" width="1" height="27" fill="#c0c0c0" />
<rect x="374" y="633" width="1" height="23" fill="#c0c0c0" />
<rect x="382" y="635" width="1" height="21" fill="#c0c0c0" />
<rect x="390" y="636" width="1" height="20" fill="#c0c0c0" />
<rect x="398" y="635" width="1" height="21" fill="#c0c0c0" />
<rect x="406" y="633" width="1" height="23" fill="#c0c0c0" />
<rect x="414" y="632" width="1" height="24" fill="#c0c0c0" />
<rect x="422" y="629" width="1" height="27" fill="#c0c0c0" />
<rect x="430" y="626" width="1" height="30" fill="#c0c0c0" />
<rect x="438" y="625" width="1" height="31" fill="#c0c0c0" />
<rect x="446" y="625" width="1" height="31" fill="#c0c0c0" />
<rect x="454" y="625" width="1" height="31" fill="#c0c0c0" />
<rect x="462" y="625" width="1" height="31" fill="#c0c0c0" />
<rect x="470" y="621" width="1" height="35" fill="#c0c0c0" />
<rect x="478" y="619" width="1" height="37" fill="#c0c0c0" />
<rect x="486" y="617" width="1" height="39" fill="#c0c0c0" />
<rect x="494" y="612" width="1" height="44" fill="#c0c0c0" />
<rect x="502" y="609" width="1" height="47" fill="#c0c0c0" />
<rect x="510" y="604" width="1" height="52" fill="#c0c0c0" />
<rect x="518" y="599" width="1" height="57" fill="#c0c0c0" />
<rect x="526" y="594" width="1" height="62" fill="#c0c0c0" />
<rect x="534" y="587" width="1" height="69" fill="#c0c0c0" />
<rect x="542" y="588" width="1" height="68" fill="#c0c0c0" />
<rect x="550" y="593" width="1" height="63" fill="#c0c0c0" />
<rect x="558" y="594" width="1" height="62" fill="#c0c0c0" />
<rect x="566" y="591" width="1" height="65" fill="#c0c0c0" />
<rect x="574" y="589" width="1" height="67" fill="#c0c0c0" />
<rect x="582" y="591" width="1" height="65" fill="#c0c0c0" />
<rect x="590" y="596" width="1" height="60" fill="#c0c0c0" />
<rect x="598" y="600" width="1" height="56" fill="#c0c0c0" />
<rect x="606" y="601" width="1" height="55" fill="#c0c0c0" />
<rect x="614" y="600" width="1" height="56" fill="#c0c0c0" />
<rect x="622" y="600" width="1" height="56" fill="#c0c0c0" />
<rect x="630" y="603" width="1" height="53" fill="#c0c0c0" />
<rect x="638" y="608" width="1" height="48" fill="#c0c0c0" />
<rect x="646" y="611" width="1" height="45" fill="#c0c0c0" />
<rect x="654" y="613" width="1" height="43" fill="#c0c0c0" />
<rect x="662" y="613" width="1" height="43" fill="#c0c0c0" />
<rect x="670" y="612" width="1" height="44" fill="#c0c0c0" />
<rect x="678" y="614" width="1" height="42" fill="#c0c0c0" />
<rect x="686" y="616" width="1" height="40" fill="#c0c0c0" />
<rect x="694" y="617" width="1" height="39" fill="#c0c0c0" />
<rect x="702" y="618" width="1" height="38" fill="#c0c0c0" />
<rect x="710" y="619" width="1" height="37" fill="#c0c0c0" />
<rect x="718" y="622" width="1" height="34" fill="#c0c0c0" />
<rect x="726" y="625" width="1" height="31" fill="#c0c0c0" />
<rect x="734" y="629" width="1" height="27" fill="#c0c0c0" />
<rect x="742" y="634" width="1" height="22" fill="#c0c0c0" />
<rect x="750" y="641" width="1" height="15" fill="#c0c0c0" />
<rect x="758" y="648" width="1" height="8" fill="#c0c0c0" />
<rect x="766" y="654" width="1" height="2" fill="#c0c0c0" />
<rect x="774" y="655" width="1" height="4" fill="#c0c0c0" />
<rect x="782" y="655" width="1" height="11" fill="#c0c0c0" />
<rect x="790" y="655" width="1" height="15" fill="#c0c0c0" />
<rect x="798" y="655" width="1" height="18" fill="#c0c0c0" />
<rect x="806" y="655" width="1" height="24" fill="#c0c0c0" />
<rect x="814" y="655" width="1" height="29" fill="#c0c0c0" />
<rect x="822" y="655" width="1" height="35" fill="#c0c0c0" />
<rect x="830" y="655" width="1" height="39" fill="#c0c0c0" />
<rect x="838" y="655" width="1" height="39" fill="#c0c0c0" />
<rect x="846" y="655" width="1" height="39" fill="#c0c0c0" />
<rect x="854" y="655" width="1" height="38" fill="#c0c0c0" />
<rect x="862" y="655" width="1" height="38" fill="#c0c0c0" />
<rect x="870" y="655" width="1" height="36" fill="#c0c0c0" />
<rect x="878" y="655" width="1" height="33" fill="#c0c0c0" />
<rect x="886" y="655" width="1" height="30" fill="#c0c0c0" />
<rect x="894" y="655" width="1" height="26" fill="#c0c0c0" />
<rect x="902" y="655" width="1" height="28" fill="#c0c0c0" />
<rect x="910" y="655" width="1" height="29" fill="#c0c0c0" />
<rect x="918" y="655" width="1" height="30" fill="#c0c0c0" />
<rect x="926" y="655" width="1" height="28" fill="#c0c0c0" />
<rect x="934" y="655" width="1" height="28" fill="#c0c0c0" />
<rect x="942" y="655" width="1" height="28" fill="#c0c0c0" />
<rect x="950" y="655" width="1" height="29" fill="#c0c0c0" />
<rect x="958" y="655" width="1" height="30" fill="#c0c0c0" />
<rect x="966" y="655" width="1" height="30" fill="#c0c0c0" />
<rect x="974" y="655" width="1" height="28" fill="#c0c0c0" />
<rect x="982" y="655" width="1" height="27" fill="#c0c0c0" />
<rect x="990" y="655" width="1" height="26" fill="#c0c0c0" />
<rect x="998" y="655" width="1" height="22" fill="#c0c0c0" />
<rect x="1006" y="655" width="1" height="19" fill="#c0c0c0" />
<rect x="1014" y="655" width="1" height="16" fill="#c0c0c0" />
<rect x="1022" y="655" width="1" height="13" fill="#c0c0c0" />
<rect x="1030" y="655" width="1" height="10" fill="#c0c0c0" />
<rect x="1038" y="655" width="1" height="6" fill="#c0c0c0" />
<rect x="1046" y="655" width="1" height="3" fill="#c0c0c0" />
<rect x="1054" y="655" width="1" height="1" fill="#c0c0c0" />
<rect x="1062" y="654" width="1" height="2" fill="#c0c0c0" />
<rect x="1070" y="651" width="1" height="5" fill="#c0c0c0" />
<rect x="1078" y="647" width="1" height="9" fill="#c0c0c0" />
<rect x="1086" y="645" width="1" height="11" fill="#c0c0c0" />
<rect x="1094" y="643" width="1" height="13" fill="#c0c0c0" />
<rect x="1102" y="641" width="1" height="15" fill="#c0c0c0" />
<rect x="1110" y="640" width="1" height="16" fill="#c0c0c0" />
<rect x="1118" y="641" width="1" height="15" fill="#c0c0c0" />
<rect x="1126" y="642" width="1" height="14" fill="#c0c0c0" />
<rect x="1134" y="642" width="1" height="14" fill="#c0c0c0" />
<rect x="1142" y="642" width="1" height="14" fill="#c0c0c0" />
<rect x="1150" y="643" width="1" height="13" fill="#c0c0c0" />
<rect x="1158" y="645" width="1" height="11" fill="#c0c0c0" />
<rect x="1166" y="645" width="1" height="11" fill="#c0c0c0" />
<rect x="1174" y="646" width="1" height="10" fill="#c0c0c0" />
<rect x="1182" y="646" width="1" height="10" fill="#c0c0c0" />
<rect x="1190" y="648" width="1" height="8" fill="#c0c0c0" />
<rect x="1198" y="648" width="1" height="8" fill="#c0c0c0" />
<rect x="1206" y="648" width="1" height="8" fill="#c0c0c0" />
<rect x="1214" y="648" width="1" height="8" fill="#c0c0c0" />
<rect x="1222" y="648" width="1" height="8" fill="#c0c0c0" />
<rect x="1230" y="649" width="1" height="7" fill="#c0c0c0" />
<rect x="1238" y="651" width="1" height="5" fill="#c0c0c0" />
<rect x="1246" y="653" width="1" height="3" fill="#c0c0c0" />
<rect x="1254" y="655" width="1" height="1" fill="#c0c0c0" />
<rect x="1262" y="655" width="1" height="1" fill="#c0c0c0" />
<rect x="1270" y="655" width="1" height="3" fill="#c0c0c0" />
<rect x="1278" y="655" width="1" height="6" fill="#c0c0c0" />
<rect x="1286" y="655" width="1" height="8" fill="#c0c0c0" />
<rect x="1294" y="655" width="1" height="11" fill="#c0c0c0" />
<rect x="1302" y="655" width="1" height="13" fill="#c0c0c0" />
<rect x="1310" y="655" width="1" height="14" fill="#c0c0c0" />
<rect x="1318" y="655" width="1" height="15" fill="#c0c0c0" />
<rect x="1326" y="655" width="1" height="16" fill="#c0c0c0" />
<rect x="1334" y="655" width="1" height="17" fill="#c0c0c0" />
<rect x="1342" y="655" width="1" height="20" fill="#c0c0c0" />
<rect x="1350" y="655" width="1" height="21" fill="#c0c0c0" />
<rect x="1358" y="655" width="1" height="21" fill="#c0c0c0" />
<rect x="1366" y="655" width="1" height="22" fill="#c0c0c0" />
<path d="M590,591h3v1h-3zM596,591h3v1h-3zM578,592h3v1h-3zM584,592h3v1h-3zM602,592h2v1h-2zM573,593h2v1h-2zM608,594h3v1h-3zM614,594h2v1h-2zM566,595h3v1h-3zM620,595h3v1h-3zM626,595h2v1h-2zM560,596h3v1h-3zM632,596h3v1h-3zM555,597h2v1h-2zM638,597h2v1h-2zM549,599h2v1h-2zM645,600h2v1h-2zM542,602h2v1h-2zM650,602h3v1h-3zM657,604h2v1h-2zM536,605h2v1h-2zM662,605h3v1h-3zM668,606h3v1h-3zM674,607h3v1h-3zM531,608h2v1h-2zM681,608h2v1h-2zM686,609h3v1h-3zM525,611h2v1h-2zM692,611h3v1h-3zM699,613h2v1h-2zM519,614h2v1h-2zM705,614h2v1h-2zM711,615h2v1h-2zM513,616h2v1h-2zM717,616h2v1h-2zM723,617h2v1h-2zM506,618h3v1h-3zM729,618h2v1h-2zM734,619h3v1h-3zM500,620h3v1h-3zM740,621h3v1h-3zM494,622h2v1h-2zM488,623h3v1h-3zM746,623h3v1h-3zM482,624h3v1h-3zM476,625h3v1h-3zM752,625h3v1h-3zM470,626h3v1h-3zM464,627h2v1h-2zM458,628h2v1h-2zM759,628h2v1h-2zM392,629h3v1h-3zM398,629h3v1h-3zM452,629h3v1h-3zM381,630h2v1h-2zM386,630h3v1h-3zM404,630h3v1h-3zM410,630h3v1h-3zM435,630h2v1h-2zM440,630h3v1h-3zM446,630h3v1h-3zM416,631h3v1h-3zM428,631h3v1h-3zM765,631h2v1h-2zM375,632h2v1h-2zM422,632h3v1h-3zM369,634h2v1h-2zM363,637h2v1h-2zM357,640h2v1h-2zM1148,641h3v1h-3zM1154,641h3v1h-3zM1160,641h3v1h-3zM1142,642h3v1h-3zM1166,642h3v1h-3zM1172,642h3v1h-3zM1178,642h3v1h-3zM351,643h2v1h-2zM1131,643h2v1h-2zM1136,643h2v1h-2zM1184,643h3v1h-3zM1190,643h3v1h-3zM1124,644h3v1h-3zM1196,644h3v1h-3zM1119,645h2v1h-2zM1202,645h3v1h-3zM1208,645h3v1h-3zM1214,645h3v1h-3zM1220,646h3v1h-3zM1226,646h3v1h-3zM1232,646h2v1h-2zM1113,647h2v1h-2zM1238,647h3v1h-3zM1244,648h3v1h-3zM1107,649h2v1h-2zM1250,649h3v1h-3zM1256,650h3v1h-3zM1262,650h3v1h-3zM1101,651h2v1h-2zM1268,651h3v1h-3zM1274,651h2v1h-2zM1095,653h2v1h-2zM1280,653h3v1h-3zM1089,655h2v1h-2zM1286,655h3v1h-3zM1292,656h2v1h-2zM1083,657h2v1h-2zM1298,658h3v1h-3zM1304,659h2v1h-2zM327,660h2v1h-2zM1076,660h3v1h-3zM1310,661h3v1h-3zM321,663h2v1h-2zM1070,663h2v1h-2zM1317,663h2v1h-2zM1322,664h3v1h-3zM1064,665h2v1h-2zM1328,665h2v1h-2zM315,666h2v1h-2zM818,666h2v1h-2zM1058,667h3v1h-3zM1334,667h3v1h-3zM1340,668h3v1h-3zM308,669h2v1h-2zM1052,669h3v1h-3zM1346,669h2v1h-2zM302,670h3v1h-3zM1352,670h2v1h-2zM1047,671h2v1h-2zM1358,671h2v1h-2zM296,672h2v1h-2zM290,673h3v1h-3zM1040,673h3v1h-3zM284,675h2v1h-2zM831,675h2v1h-2zM1034,675h2v1h-2zM278,676h3v1h-3zM1028,676h3v1h-3zM272,677h2v1h-2zM266,678h3v1h-3zM836,678h2v1h-2zM1022,678h2v1h-2zM1016,679h3v1h-3zM260,680h2v1h-2zM1010,680h3v1h-3zM255,681h2v1h-2zM842,681h2v1h-2zM1004,682h2v1h-2zM992,683h3v1h-3zM998,683h3v1h-3zM249,684h2v1h-2zM849,684h2v1h-2zM944,684h3v1h-3zM950,684h3v1h-3zM956,684h3v1h-3zM962,684h3v1h-3zM968,684h3v1h-3zM974,684h3v1h-3zM980,684h3v1h-3zM986,684h3v1h-3zM932,685h3v1h-3zM938,685h2v1h-2zM33,686h2v1h-2zM38,686h3v1h-3zM44,686h3v1h-3zM50,686h3v1h-3zM56,686h3v1h-3zM62,686h2v1h-2zM854,686h3v1h-3zM926,686h3v1h-3zM26,687h3v1h-3zM68,687h2v1h-2zM920,687h3v1h-3zM20,688h3v1h-3zM74,688h3v1h-3zM860,688h3v1h-3zM908,688h3v1h-3zM914,688h2v1h-2zM14,689h3v1h-3zM80,689h3v1h-3zM897,689h2v1h-2zM902,689h3v1h-3zM8,690h3v1h-3zM86,690h3v1h-3zM867,690h2v1h-2zM891,690h2v1h-2zM2,691h2v1h-2zM873,691h2v1h-2zM878,691h3v1h-3zM884,691h3v1h-3zM93,692h2v1h-2zM98,693h3v1h-3zM105,696h2v1h-2zM111,699h2v1h-2zM224,701h2v1h-2zM116,702h2v1h-2zM219,705h2v1h-2zM122,706h2v1h-2zM213,710h2v1h-2zM134,713h2v1h-2zM146,720h2v1h-2zM200,720h2v1h-2zM195,723h2v1h-2zM153,724h2v1h-2zM188,726h2v1h-2zM159,727h2v1h-2zM164,728h3v1h-3zM182,728h3v1h-3zM170,729h3v1h-3zM176,729h2v1h-2zM-2,691h1v1h-1zM4,690h1v1h-1zM32,687h1v1h-1zM64,687h1v1h-1zM70,688h1v1h-1zM92,691h1v1h-1zM104,695h1v1h-1zM110,698h1v1h-1zM118,703h1v1h-1zM124,707h1v1h-1zM128,709h1v1h-1zM129,710h1v1h-1zM130,711h1v1h-1zM136,714h1v1h-1zM140,716h1v1h-1zM141,717h1v1h-1zM142,718h1v1h-1zM148,721h1v1h-1zM152,723h1v1h-1zM158,726h1v1h-1zM178,728h1v1h-1zM190,725h1v1h-1zM194,724h1v1h-1zM202,719h1v1h-1zM206,716h1v1h-1zM207,715h1v1h-1zM208,714h1v1h-1zM212,711h1v1h-1zM218,706h1v1h-1zM226,700h1v1h-1zM230,697h1v1h-1zM231,696h1v1h-1zM232,695h1v1h-1zM236,693h1v1h-1zM237,692h1v1h-1zM238,691h1v1h-1zM242,689h1v1h-1zM243,688h1v1h-1zM244,687h1v1h-1zM248,685h1v1h-1zM254,682h1v1h-1zM262,679h1v1h-1zM274,676h1v1h-1zM286,674h1v1h-1zM298,671h1v1h-1zM310,668h1v1h-1zM314,667h1v1h-1zM320,664h1v1h-1zM326,661h1v1h-1zM332,658h1v1h-1zM333,657h1v1h-1zM334,656h1v1h-1zM338,654h1v1h-1zM339,653h1v1h-1zM340,652h1v1h-1zM344,649h1v1h-1zM345,648h1v1h-1zM346,647h1v1h-1zM350,644h1v1h-1zM356,641h1v1h-1zM362,638h1v1h-1zM368,635h1v1h-1zM374,633h1v1h-1zM380,631h1v1h-1zM434,631h1v1h-1zM460,627h1v1h-1zM466,626h1v1h-1zM496,621h1v1h-1zM512,617h1v1h-1zM518,615h1v1h-1zM524,612h1v1h-1zM530,609h1v1h-1zM538,604h1v1h-1zM544,601h1v1h-1zM548,600h1v1h-1zM554,598h1v1h-1zM572,594h1v1h-1zM604,593h1v1h-1zM616,595h1v1h-1zM628,596h1v1h-1zM640,598h1v1h-1zM644,599h1v1h-1zM656,603h1v1h-1zM680,607h1v1h-1zM698,612h1v1h-1zM704,613h1v1h-1zM710,614h1v1h-1zM716,615h1v1h-1zM722,616h1v1h-1zM728,617h1v1h-1zM758,627h1v1h-1zM764,630h1v1h-1zM770,633h1v1h-1zM771,634h1v1h-1zM772,635h1v1h-1zM776,637h1v1h-1zM777,638h1v1h-1zM778,639h1v1h-1zM782,641h1v1h-1zM783,642h1v1h-1zM784,643h1v1h-1zM788,645h1v1h-1zM789,646h1v1h-1zM790,647h1v1h-1zM794,649h1v1h-1zM795,650h1v1h-1zM796,651h1v1h-1zM800,653h1v1h-1zM801,654h1v1h-1zM802,655h1v1h-1zM806,657h1v1h-1zM807,658h1v1h-1zM808,659h1v1h-1zM812,661h1v1h-1zM813,662h1v1h-1zM814,663h1v1h-1zM820,667h1v1h-1zM824,670h1v1h-1zM825,671h1v1h-1zM826,672h1v1h-1zM830,674h1v1h-1zM838,679h1v1h-1zM844,682h1v1h-1zM848,683h1v1h-1zM866,689h1v1h-1zM872,690h1v1h-1zM890,691h1v1h-1zM896,690h1v1h-1zM916,687h1v1h-1zM940,684h1v1h-1zM1006,681h1v1h-1zM1024,677h1v1h-1zM1036,674h1v1h-1zM1046,672h1v1h-1zM1066,664h1v1h-1zM1072,662h1v1h-1zM1082,658h1v1h-1zM1088,656h1v1h-1zM1094,654h1v1h-1zM1100,652h1v1h-1zM1106,650h1v1h-1zM1112,648h1v1h-1zM1118,646h1v1h-1zM1130,644h1v1h-1zM1138,642h1v1h-1zM1234,647h1v1h-1zM1276,652h1v1h-1zM1294,657h1v1h-1zM1306,660h1v1h-1zM1316,662h1v1h-1zM1330,666h1v1h-1zM1348,670h1v1h-1zM1354,671h1v1h-1zM1360,672h1v1h-1z" fill="#ff0000"/>
</g>
<rect x="1608" y="579" width="2" height="1" fill="#000" shape-rendering="crispEdges"/>
<rect x="1608" y="655" width="2" height="1" fill="#000" shape-rendering="crispEdges"/>
<rect x="1608" y="746" width="2" height="1" fill="#000" shape-rendering="crispEdges"/>
<text x="1611.5" y="588" font-size="9.8" fill="#000" font-family='"Liberation Sans", "Noto Sans CJK SC", sans-serif' textLength="22.5" lengthAdjust="spacingAndGlyphs" stroke="#000" stroke-width="0.15">1.331</text>
<text x="1611.5" y="659" font-size="9.8" fill="#000" font-family='"Liberation Sans", "Noto Sans CJK SC", sans-serif' textLength="17.5" lengthAdjust="spacingAndGlyphs" stroke="#000" stroke-width="0.15">0.00</text>
<text x="1611.5" y="744" font-size="9.8" fill="#000" font-family='"Liberation Sans", "Noto Sans CJK SC", sans-serif' textLength="30.5" lengthAdjust="spacingAndGlyphs" stroke="#000" stroke-width="0.15">-1.5997</text>
<text x="2.5" y="590.3" font-size="9.8" fill="#000" font-family='"Liberation Sans", "Noto Sans CJK SC", sans-serif' textLength="133" lengthAdjust="spacingAndGlyphs" stroke="#000" stroke-width="0.15">MACD(12,26,9) -0.3802 -0.3107</text>
<g clip-path="url(#c3)" shape-rendering="crispEdges">
<line x1="-1" y1="785.5" x2="1605" y2="785.5" stroke="#c0c0c0" stroke-width="1" stroke-dasharray="3 3"/>
<line x1="-1" y1="836.5" x2="1605" y2="836.5" stroke="#c0c0c0" stroke-width="1" stroke-dasharray="3 3"/>
<line x1="-1" y1="897.5" x2="1605" y2="897.5" stroke="#c0c0c0" stroke-width="1" stroke-dasharray="3 3"/>
<path d="M532,792h3v1h-3zM530,793h2v1h-2zM527,795h2v1h-2zM525,796h2v1h-2zM523,797h2v1h-2zM521,798h2v1h-2zM519,799h2v1h-2zM516,800h3v1h-3zM512,801h4v1h-4zM510,802h2v1h-2zM508,803h2v1h-2zM494,805h2v1h-2zM496,806h2v1h-2zM504,806h2v1h-2zM566,806h2v1h-2zM333,807h2v1h-2zM498,807h3v1h-3zM568,807h4v1h-4zM501,808h2v1h-2zM572,808h3v1h-3zM330,809h2v1h-2zM614,811h9v1h-9zM1076,811h2v1h-2zM471,812h2v1h-2zM612,812h2v1h-2zM324,813h3v1h-3zM610,813h2v1h-2zM320,814h4v1h-4zM474,814h2v1h-2zM484,814h3v1h-3zM662,814h9v1h-9zM1072,814h2v1h-2zM1098,814h8v1h-8zM318,815h2v1h-2zM429,815h2v1h-2zM476,815h2v1h-2zM480,815h4v1h-4zM607,815h2v1h-2zM1093,815h5v1h-5zM1106,815h5v1h-5zM426,816h3v1h-3zM431,816h2v1h-2zM478,816h2v1h-2zM1069,816h2v1h-2zM1090,816h3v1h-3zM424,817h2v1h-2zM556,817h2v1h-2zM604,817h2v1h-2zM658,817h2v1h-2zM692,817h2v1h-2zM695,817h2v1h-2zM1066,817h3v1h-3zM1088,817h2v1h-2zM422,818h2v1h-2zM434,818h2v1h-2zM554,818h2v1h-2zM602,818h2v1h-2zM674,818h2v1h-2zM690,818h2v1h-2zM709,818h2v1h-2zM1064,818h2v1h-2zM1086,818h2v1h-2zM436,819h2v1h-2zM582,819h2v1h-2zM698,819h2v1h-2zM706,819h3v1h-3zM711,819h2v1h-2zM1062,819h2v1h-2zM551,820h2v1h-2zM584,820h4v1h-4zM599,820h2v1h-2zM687,820h2v1h-2zM700,820h2v1h-2zM704,820h2v1h-2zM418,821h2v1h-2zM439,821h2v1h-2zM453,821h3v1h-3zM588,821h11v1h-11zM653,821h2v1h-2zM678,821h9v1h-9zM702,821h2v1h-2zM714,821h2v1h-2zM441,822h2v1h-2zM450,822h3v1h-3zM456,822h4v1h-4zM651,822h2v1h-2zM716,822h2v1h-2zM1042,822h5v1h-5zM1133,822h10v1h-10zM349,823h3v1h-3zM405,823h3v1h-3zM443,823h2v1h-2zM448,823h2v1h-2zM460,823h3v1h-3zM649,823h2v1h-2zM1038,823h4v1h-4zM1130,823h3v1h-3zM346,824h3v1h-3zM352,824h2v1h-2zM403,824h2v1h-2zM408,824h4v1h-4zM445,824h3v1h-3zM634,824h2v1h-2zM647,824h2v1h-2zM1036,824h2v1h-2zM1128,824h2v1h-2zM278,825h3v1h-3zM344,825h2v1h-2zM354,825h3v1h-3zM401,825h2v1h-2zM412,825h3v1h-3zM644,825h3v1h-3zM1124,825h4v1h-4zM1210,825h8v1h-8zM342,826h2v1h-2zM357,826h2v1h-2zM399,826h2v1h-2zM640,826h4v1h-4zM1120,826h4v1h-4zM1180,826h3v1h-3zM1205,826h5v1h-5zM1218,826h6v1h-6zM282,827h2v1h-2zM397,827h2v1h-2zM638,827h2v1h-2zM722,827h2v1h-2zM1032,827h2v1h-2zM1118,827h2v1h-2zM1176,827h4v1h-4zM1203,827h2v1h-2zM1224,827h2v1h-2zM284,828h2v1h-2zM394,828h3v1h-3zM1166,828h10v1h-10zM1201,828h2v1h-2zM1226,828h3v1h-3zM392,829h2v1h-2zM1164,829h2v1h-2zM1199,829h2v1h-2zM1229,829h2v1h-2zM389,830h3v1h-3zM726,830h2v1h-2zM1197,830h2v1h-2zM190,831h2v1h-2zM387,831h2v1h-2zM728,831h2v1h-2zM1150,831h2v1h-2zM1195,831h2v1h-2zM192,832h2v1h-2zM385,832h2v1h-2zM730,832h3v1h-3zM1026,832h2v1h-2zM1152,832h2v1h-2zM1160,832h2v1h-2zM1193,832h2v1h-2zM383,833h2v1h-2zM733,833h2v1h-2zM1154,833h3v1h-3zM1191,833h2v1h-2zM301,834h2v1h-2zM380,834h3v1h-3zM735,834h2v1h-2zM1157,834h2v1h-2zM196,835h2v1h-2zM298,835h3v1h-3zM376,835h4v1h-4zM737,835h2v1h-2zM1013,835h5v1h-5zM198,836h2v1h-2zM213,836h3v1h-3zM296,836h2v1h-2zM366,836h10v1h-10zM739,836h2v1h-2zM1010,836h3v1h-3zM1018,836h5v1h-5zM200,837h2v1h-2zM210,837h3v1h-3zM216,837h2v1h-2zM294,837h2v1h-2zM741,837h2v1h-2zM1008,837h2v1h-2zM202,838h3v1h-3zM208,838h2v1h-2zM218,838h3v1h-3zM226,838h6v1h-6zM1002,838h6v1h-6zM205,839h3v1h-3zM221,839h5v1h-5zM232,839h4v1h-4zM998,839h4v1h-4zM236,840h4v1h-4zM240,841h4v1h-4zM244,842h3v1h-3zM893,842h2v1h-2zM174,843h2v1h-2zM891,843h2v1h-2zM889,844h2v1h-2zM887,845h2v1h-2zM878,846h9v1h-9zM1250,848h6v1h-6zM1242,849h8v1h-8zM1256,849h2v1h-2zM268,850h3v1h-3zM1238,850h4v1h-4zM1258,850h3v1h-3zM264,851h4v1h-4zM751,851h2v1h-2zM1261,851h2v1h-2zM261,852h3v1h-3zM753,852h2v1h-2zM259,853h2v1h-2zM755,853h2v1h-2zM926,853h2v1h-2zM974,853h2v1h-2zM181,854h2v1h-2zM257,854h2v1h-2zM757,854h5v1h-5zM928,854h4v1h-4zM972,854h2v1h-2zM976,854h2v1h-2zM18,855h5v1h-5zM255,855h2v1h-2zM762,855h6v1h-6zM932,855h4v1h-4zM970,855h2v1h-2zM978,855h3v1h-3zM986,855h5v1h-5zM14,856h4v1h-4zM768,856h2v1h-2zM922,856h2v1h-2zM936,856h4v1h-4zM981,856h5v1h-5zM770,857h3v1h-3zM790,857h4v1h-4zM852,857h3v1h-3zM940,857h3v1h-3zM967,857h2v1h-2zM165,858h2v1h-2zM773,858h2v1h-2zM794,858h5v1h-5zM848,858h4v1h-4zM855,858h2v1h-2zM965,858h2v1h-2zM163,859h2v1h-2zM838,859h10v1h-10zM902,859h4v1h-4zM963,859h2v1h-2zM161,860h2v1h-2zM858,860h2v1h-2zM906,860h13v1h-13zM961,860h2v1h-2zM159,861h2v1h-2zM860,861h2v1h-2zM959,861h2v1h-2zM957,862h2v1h-2zM1271,862h2v1h-2zM954,863h3v1h-3zM30,864h2v1h-2zM952,864h2v1h-2zM1274,864h2v1h-2zM32,865h2v1h-2zM950,865h2v1h-2zM1276,865h2v1h-2zM34,866h3v1h-3zM1278,866h4v1h-4zM37,867h2v1h-2zM807,867h2v1h-2zM1282,867h5v1h-5zM1325,867h2v1h-2zM39,868h2v1h-2zM809,868h2v1h-2zM1323,868h2v1h-2zM41,869h2v1h-2zM811,869h2v1h-2zM1321,869h2v1h-2zM43,870h2v1h-2zM813,870h3v1h-3zM1301,870h5v1h-5zM1319,870h2v1h-2zM45,871h3v1h-3zM816,871h2v1h-2zM1290,871h2v1h-2zM1299,871h2v1h-2zM1306,871h13v1h-13zM48,872h4v1h-4zM818,872h3v1h-3zM1297,872h2v1h-2zM52,873h3v1h-3zM821,873h5v1h-5zM1295,873h2v1h-2zM826,874h5v1h-5zM56,875h2v1h-2zM1362,876h5v1h-5zM1356,877h6v1h-6zM60,878h2v1h-2zM1352,878h4v1h-4zM62,879h4v1h-4zM1335,879h2v1h-2zM1349,879h3v1h-3zM66,880h5v1h-5zM1347,880h2v1h-2zM1338,881h2v1h-2zM1345,881h2v1h-2zM72,882h2v1h-2zM85,882h3v1h-3zM1340,882h2v1h-2zM1343,882h2v1h-2zM83,883h2v1h-2zM88,883h4v1h-4zM81,884h2v1h-2zM92,884h3v1h-3zM76,885h2v1h-2zM79,885h2v1h-2zM134,895h2v1h-2zM136,896h4v1h-4zM140,897h3v1h-3zM130,898h2v1h-2zM110,902h4v1h-4zM122,902h5v1h-5zM114,903h8v1h-8zM-2,858h1v1h-1zM-1,857h1v1h-1zM0,855h1v2h-1zM1,854h1v1h-1zM2,853h1v1h-1zM3,852h1v1h-1zM4,850h1v2h-1zM5,849h1v1h-1zM6,848h1v1h-1zM7,849h1v1h-1zM8,850h1v1h-1zM9,851h1v1h-1zM10,852h1v1h-1zM11,853h1v1h-1zM12,854h1v1h-1zM13,855h1v1h-1zM23,856h1v1h-1zM24,857h1v1h-1zM25,858h1v1h-1zM26,859h1v2h-1zM27,861h1v1h-1zM28,862h1v1h-1zM29,863h1v1h-1zM55,874h1v1h-1zM58,876h1v1h-1zM59,877h1v1h-1zM71,881h1v1h-1zM74,883h1v1h-1zM75,884h1v1h-1zM78,886h1v1h-1zM95,885h1v1h-1zM96,886h1v2h-1zM97,888h1v1h-1zM98,889h1v1h-1zM99,890h1v1h-1zM100,891h1v2h-1zM101,893h1v1h-1zM102,894h1v1h-1zM103,895h1v1h-1zM104,896h1v1h-1zM105,897h1v1h-1zM106,898h1v1h-1zM107,899h1v1h-1zM108,900h1v1h-1zM109,901h1v1h-1zM127,901h1v1h-1zM128,900h1v1h-1zM129,899h1v1h-1zM132,897h1v1h-1zM133,896h1v1h-1zM142,896h1v1h-1zM143,894h1v2h-1zM144,892h1v2h-1zM145,890h1v2h-1zM146,887h1v3h-1zM147,885h1v2h-1zM148,883h1v2h-1zM149,881h1v2h-1zM150,878h1v3h-1zM151,876h1v2h-1zM152,874h1v2h-1zM153,872h1v2h-1zM154,870h1v2h-1zM155,868h1v2h-1zM156,866h1v2h-1zM157,864h1v2h-1zM158,862h1v2h-1zM167,856h1v2h-1zM168,854h1v2h-1zM169,852h1v2h-1zM170,850h1v2h-1zM171,848h1v2h-1zM172,846h1v2h-1zM173,844h1v2h-1zM174,842h1v1h-1zM175,844h1v1h-1zM176,845h1v2h-1zM177,847h1v1h-1zM178,848h1v2h-1zM179,850h1v1h-1zM180,851h1v2h-1zM181,853h1v1h-1zM182,855h1v1h-1zM183,851h1v3h-1zM184,848h1v3h-1zM185,845h1v3h-1zM186,841h1v4h-1zM187,838h1v3h-1zM188,835h1v3h-1zM189,832h1v3h-1zM190,830h1v1h-1zM194,833h1v1h-1zM195,834h1v1h-1zM247,843h1v2h-1zM248,845h1v2h-1zM249,847h1v2h-1zM250,849h1v1h-1zM251,850h1v2h-1zM252,852h1v2h-1zM253,854h1v2h-1zM254,856h1v1h-1zM270,849h1v1h-1zM271,846h1v3h-1zM272,842h1v4h-1zM273,839h1v3h-1zM274,836h1v3h-1zM275,833h1v3h-1zM276,829h1v4h-1zM277,826h1v3h-1zM278,824h1v1h-1zM281,826h1v1h-1zM286,829h1v1h-1zM287,830h1v1h-1zM288,831h1v1h-1zM289,832h1v1h-1zM290,833h1v1h-1zM291,834h1v1h-1zM292,835h1v1h-1zM293,836h1v1h-1zM303,833h1v1h-1zM304,831h1v2h-1zM305,830h1v1h-1zM306,829h1v1h-1zM307,828h1v1h-1zM308,826h1v2h-1zM309,825h1v1h-1zM310,824h1v1h-1zM311,823h1v1h-1zM312,822h1v1h-1zM313,821h1v1h-1zM314,819h1v2h-1zM315,818h1v1h-1zM316,817h1v1h-1zM317,816h1v1h-1zM327,812h1v1h-1zM328,811h1v1h-1zM329,810h1v1h-1zM332,808h1v1h-1zM334,806h1v1h-1zM335,808h1v2h-1zM336,810h1v3h-1zM337,813h1v2h-1zM338,815h1v3h-1zM339,818h1v2h-1zM340,820h1v3h-1zM341,823h1v2h-1zM342,825h1v1h-1zM359,827h1v1h-1zM360,828h1v2h-1zM361,830h1v1h-1zM362,831h1v1h-1zM363,832h1v1h-1zM364,833h1v2h-1zM365,835h1v1h-1zM415,824h1v1h-1zM416,823h1v1h-1zM417,822h1v1h-1zM420,820h1v1h-1zM421,819h1v1h-1zM433,817h1v1h-1zM438,820h1v1h-1zM463,821h1v2h-1zM464,820h1v1h-1zM465,818h1v2h-1zM466,817h1v1h-1zM467,815h1v2h-1zM468,814h1v1h-1zM469,812h1v2h-1zM470,811h1v1h-1zM473,813h1v1h-1zM487,813h1v1h-1zM488,812h1v1h-1zM489,811h1v1h-1zM490,809h1v2h-1zM491,808h1v1h-1zM492,807h1v1h-1zM493,806h1v1h-1zM503,807h1v1h-1zM506,805h1v1h-1zM507,804h1v1h-1zM529,794h1v1h-1zM534,791h1v1h-1zM535,793h1v2h-1zM536,795h1v2h-1zM537,797h1v3h-1zM538,800h1v2h-1zM539,802h1v3h-1zM540,805h1v2h-1zM541,807h1v2h-1zM542,809h1v2h-1zM543,811h1v2h-1zM544,813h1v1h-1zM545,814h1v1h-1zM546,815h1v2h-1zM547,817h1v1h-1zM548,818h1v1h-1zM549,819h1v2h-1zM550,821h1v1h-1zM553,819h1v1h-1zM558,816h1v1h-1zM559,815h1v1h-1zM560,813h1v2h-1zM561,812h1v1h-1zM562,811h1v1h-1zM563,810h1v1h-1zM564,808h1v2h-1zM565,807h1v1h-1zM575,809h1v2h-1zM576,811h1v1h-1zM577,812h1v1h-1zM578,813h1v2h-1zM579,815h1v1h-1zM580,816h1v1h-1zM581,817h1v2h-1zM601,819h1v1h-1zM606,816h1v1h-1zM609,814h1v1h-1zM623,812h1v1h-1zM624,813h1v1h-1zM625,814h1v1h-1zM626,815h1v2h-1zM627,817h1v1h-1zM628,818h1v1h-1zM629,819h1v1h-1zM630,820h1v1h-1zM631,821h1v1h-1zM632,822h1v1h-1zM633,823h1v1h-1zM636,825h1v1h-1zM637,826h1v1h-1zM655,820h1v1h-1zM656,819h1v1h-1zM657,818h1v1h-1zM660,816h1v1h-1zM661,815h1v1h-1zM671,815h1v1h-1zM672,816h1v1h-1zM673,817h1v1h-1zM676,819h1v1h-1zM677,820h1v1h-1zM689,819h1v1h-1zM694,816h1v1h-1zM697,818h1v1h-1zM713,820h1v1h-1zM718,823h1v1h-1zM719,824h1v1h-1zM720,825h1v1h-1zM721,826h1v1h-1zM724,828h1v1h-1zM725,829h1v1h-1zM743,838h1v2h-1zM744,840h1v2h-1zM745,842h1v1h-1zM746,843h1v2h-1zM747,845h1v1h-1zM748,846h1v2h-1zM749,848h1v2h-1zM750,850h1v1h-1zM775,859h1v1h-1zM776,860h1v2h-1zM777,862h1v1h-1zM778,863h1v1h-1zM779,864h1v1h-1zM780,865h1v2h-1zM781,867h1v1h-1zM782,868h1v1h-1zM783,866h1v2h-1zM784,865h1v1h-1zM785,864h1v1h-1zM786,862h1v2h-1zM787,861h1v1h-1zM788,860h1v1h-1zM789,858h1v2h-1zM799,859h1v1h-1zM800,860h1v1h-1zM801,861h1v1h-1zM802,862h1v1h-1zM803,863h1v1h-1zM804,864h1v1h-1zM805,865h1v1h-1zM806,866h1v1h-1zM831,872h1v2h-1zM832,870h1v2h-1zM833,868h1v2h-1zM834,866h1v2h-1zM835,864h1v2h-1zM836,862h1v2h-1zM837,860h1v2h-1zM857,859h1v1h-1zM862,862h1v1h-1zM863,861h1v1h-1zM864,860h1v1h-1zM865,859h1v1h-1zM866,858h1v1h-1zM867,857h1v1h-1zM868,856h1v1h-1zM869,855h1v1h-1zM870,854h1v1h-1zM871,853h1v1h-1zM872,852h1v1h-1zM873,851h1v1h-1zM874,850h1v1h-1zM875,849h1v1h-1zM876,848h1v1h-1zM877,847h1v1h-1zM894,843h1v1h-1zM895,844h1v2h-1zM896,846h1v2h-1zM897,848h1v2h-1zM898,850h1v2h-1zM899,852h1v2h-1zM900,854h1v2h-1zM901,856h1v2h-1zM902,858h1v1h-1zM919,859h1v1h-1zM920,858h1v1h-1zM921,857h1v1h-1zM924,855h1v1h-1zM925,854h1v1h-1zM943,858h1v1h-1zM944,859h1v1h-1zM945,860h1v1h-1zM946,861h1v1h-1zM947,862h1v1h-1zM948,863h1v1h-1zM949,864h1v1h-1zM969,856h1v1h-1zM991,853h1v2h-1zM992,851h1v2h-1zM993,849h1v2h-1zM994,847h1v2h-1zM995,845h1v2h-1zM996,843h1v2h-1zM997,841h1v2h-1zM998,840h1v1h-1zM1023,835h1v1h-1zM1024,834h1v1h-1zM1025,833h1v1h-1zM1028,831h1v1h-1zM1029,830h1v1h-1zM1030,829h1v1h-1zM1031,828h1v1h-1zM1034,826h1v1h-1zM1035,825h1v1h-1zM1047,823h1v1h-1zM1048,824h1v1h-1zM1049,825h1v1h-1zM1050,826h1v1h-1zM1051,827h1v1h-1zM1052,828h1v1h-1zM1053,829h1v1h-1zM1054,830h1v1h-1zM1055,828h1v2h-1zM1056,827h1v1h-1zM1057,826h1v1h-1zM1058,824h1v2h-1zM1059,823h1v1h-1zM1060,822h1v1h-1zM1061,820h1v2h-1zM1071,815h1v1h-1zM1074,813h1v1h-1zM1075,812h1v1h-1zM1078,810h1v1h-1zM1079,811h1v1h-1zM1080,812h1v1h-1zM1081,813h1v1h-1zM1082,814h1v1h-1zM1083,815h1v1h-1zM1084,816h1v1h-1zM1085,817h1v1h-1zM1111,816h1v2h-1zM1112,818h1v1h-1zM1113,819h1v2h-1zM1114,821h1v1h-1zM1115,822h1v2h-1zM1116,824h1v1h-1zM1117,825h1v2h-1zM1143,823h1v1h-1zM1144,824h1v1h-1zM1145,825h1v1h-1zM1146,826h1v2h-1zM1147,828h1v1h-1zM1148,829h1v1h-1zM1149,830h1v1h-1zM1159,833h1v1h-1zM1162,831h1v1h-1zM1163,830h1v1h-1zM1183,827h1v1h-1zM1184,828h1v1h-1zM1185,829h1v1h-1zM1186,830h1v1h-1zM1187,831h1v1h-1zM1188,832h1v1h-1zM1189,833h1v1h-1zM1190,834h1v1h-1zM1230,830h1v1h-1zM1231,831h1v2h-1zM1232,833h1v3h-1zM1233,836h1v3h-1zM1234,839h1v2h-1zM1235,841h1v3h-1zM1236,844h1v3h-1zM1237,847h1v2h-1zM1238,849h1v1h-1zM1263,852h1v1h-1zM1264,853h1v2h-1zM1265,855h1v1h-1zM1266,856h1v1h-1zM1267,857h1v1h-1zM1268,858h1v2h-1zM1269,860h1v1h-1zM1270,861h1v1h-1zM1273,863h1v1h-1zM1287,868h1v1h-1zM1288,869h1v1h-1zM1289,870h1v1h-1zM1292,872h1v1h-1zM1293,873h1v1h-1zM1294,874h1v1h-1zM1327,868h1v2h-1zM1328,870h1v1h-1zM1329,871h1v1h-1zM1330,872h1v2h-1zM1331,874h1v1h-1zM1332,875h1v1h-1zM1333,876h1v2h-1zM1334,878h1v1h-1zM1337,880h1v1h-1zM1342,883h1v1h-1z" fill="#1e90ff"/>
</g>
<text x="1611.5" y="760.3" font-size="9.8" fill="#000" font-family='"Liberation Sans", "Noto Sans CJK SC", sans-serif' textLength="15" lengthAdjust="spacingAndGlyphs" stroke="#000" stroke-width="0.15">100</text>
<text x="1611.5" y="788.8" font-size="9.8" fill="#000" font-family='"Liberation Sans", "Noto Sans CJK SC", sans-serif' textLength="10" lengthAdjust="spacingAndGlyphs" stroke="#000" stroke-width="0.15">80</text>
<text x="1611.5" y="839.8" font-size="9.8" fill="#000" font-family='"Liberation Sans", "Noto Sans CJK SC", sans-serif' textLength="10" lengthAdjust="spacingAndGlyphs" stroke="#000" stroke-width="0.15">50</text>
<text x="1611.5" y="900.8" font-size="9.8" fill="#000" font-family='"Liberation Sans", "Noto Sans CJK SC", sans-serif' textLength="10" lengthAdjust="spacingAndGlyphs" stroke="#000" stroke-width="0.15">15</text>
<text x="1611.5" y="919.8" font-size="9.8" fill="#000" font-family='"Liberation Sans", "Noto Sans CJK SC", sans-serif' textLength="5" lengthAdjust="spacingAndGlyphs" stroke="#000" stroke-width="0.15">0</text>
<rect x="1608" y="750" width="2" height="1" fill="#000" shape-rendering="crispEdges"/>
<rect x="1608" y="785" width="2" height="1" fill="#000" shape-rendering="crispEdges"/>
<rect x="1608" y="836" width="2" height="1" fill="#000" shape-rendering="crispEdges"/>
<rect x="1608" y="897" width="2" height="1" fill="#000" shape-rendering="crispEdges"/>
<rect x="1608" y="922" width="2" height="1" fill="#000" shape-rendering="crispEdges"/>
<text x="2.5" y="762.3" font-size="9.8" fill="#000" font-family='"Liberation Sans", "Noto Sans CJK SC", sans-serif' textLength="67.5" lengthAdjust="spacingAndGlyphs" stroke="#000" stroke-width="0.15">RSI(14) 26.8127</text>
<rect x="-2" y="924" width="1" height="2" fill="#000" shape-rendering="crispEdges"/>
<text x="-3" y="935.4" font-size="9.7" fill="#000" font-family='"Liberation Sans", "Noto Sans CJK SC", sans-serif' stroke="#000" stroke-width="0.15">4 Mar 2020</text>
<rect x="62" y="924" width="1" height="2" fill="#000" shape-rendering="crispEdges"/>
<text x="61" y="935.4" font-size="9.7" fill="#000" font-family='"Liberation Sans", "Noto Sans CJK SC", sans-serif' stroke="#000" stroke-width="0.15">6 Mar 00:00</text>
<rect x="126" y="924" width="1" height="2" fill="#000" shape-rendering="crispEdges"/>
<text x="125" y="935.4" font-size="9.7" fill="#000" font-family='"Liberation Sans", "Noto Sans CJK SC", sans-serif' stroke="#000" stroke-width="0.15">9 Mar 08:00</text>
<rect x="190" y="924" width="1" height="2" fill="#000" shape-rendering="crispEdges"/>
<text x="189" y="935.4" font-size="9.7" fill="#000" font-family='"Liberation Sans", "Noto Sans CJK SC", sans-serif' stroke="#000" stroke-width="0.15">10 Mar 16:00</text>
<rect x="254" y="924" width="1" height="2" fill="#000" shape-rendering="crispEdges"/>
<text x="253" y="935.4" font-size="9.7" fill="#000" font-family='"Liberation Sans", "Noto Sans CJK SC", sans-serif' stroke="#000" stroke-width="0.15">12 Mar 00:00</text>
<rect x="318" y="924" width="1" height="2" fill="#000" shape-rendering="crispEdges"/>
<text x="317" y="935.4" font-size="9.7" fill="#000" font-family='"Liberation Sans", "Noto Sans CJK SC", sans-serif' stroke="#000" stroke-width="0.15">13 Mar 08:00</text>
<rect x="382" y="924" width="1" height="2" fill="#000" shape-rendering="crispEdges"/>
<text x="381" y="935.4" font-size="9.7" fill="#000" font-family='"Liberation Sans", "Noto Sans CJK SC", sans-serif' stroke="#000" stroke-width="0.15">16 Mar 16:00</text>
<rect x="446" y="924" width="1" height="2" fill="#000" shape-rendering="crispEdges"/>
<text x="445" y="935.4" font-size="9.7" fill="#000" font-family='"Liberation Sans", "Noto Sans CJK SC", sans-serif' stroke="#000" stroke-width="0.15">18 Mar 00:00</text>
<rect x="510" y="924" width="1" height="2" fill="#000" shape-rendering="crispEdges"/>
<text x="509" y="935.4" font-size="9.7" fill="#000" font-family='"Liberation Sans", "Noto Sans CJK SC", sans-serif' stroke="#000" stroke-width="0.15">19 Mar 08:00</text>
<rect x="574" y="924" width="1" height="2" fill="#000" shape-rendering="crispEdges"/>
<text x="573" y="935.4" font-size="9.7" fill="#000" font-family='"Liberation Sans", "Noto Sans CJK SC", sans-serif' stroke="#000" stroke-width="0.15">20 Mar 16:00</text>
<rect x="638" y="924" width="1" height="2" fill="#000" shape-rendering="crispEdges"/>
<text x="637" y="935.4" font-size="9.7" fill="#000" font-family='"Liberation Sans", "Noto Sans CJK SC", sans-serif' stroke="#000" stroke-width="0.15">24 Mar 00:00</text>
<rect x="702" y="924" width="1" height="2" fill="#000" shape-rendering="crispEdges"/>
<text x="701" y="935.4" font-size="9.7" fill="#000" font-family='"Liberation Sans", "Noto Sans CJK SC", sans-serif' stroke="#000" stroke-width="0.15">25 Mar 08:00</text>
<rect x="766" y="924" width="1" height="2" fill="#000" shape-rendering="crispEdges"/>
<text x="765" y="935.4" font-size="9.7" fill="#000" font-family='"Liberation Sans", "Noto Sans CJK SC", sans-serif' stroke="#000" stroke-width="0.15">26 Mar 16:00</text>
<rect x="830" y="924" width="1" height="2" fill="#000" shape-rendering="crispEdges"/>
<text x="829" y="935.4" font-size="9.7" fill="#000" font-family='"Liberation Sans", "Noto Sans CJK SC", sans-serif' stroke="#000" stroke-width="0.15">30 Mar 00:00</text>
<rect x="894" y="924" width="1" height="2" fill="#000" shape-rendering="crispEdges"/>
<text x="893" y="935.4" font-size="9.7" fill="#000" font-family='"Liberation Sans", "Noto Sans CJK SC", sans-serif' stroke="#000" stroke-width="0.15">31 Mar 08:00</text>
<rect x="958" y="924" width="1" height="2" fill="#000" shape-rendering="crispEdges"/>
<text x="957" y="935.4" font-size="9.7" fill="#000" font-family='"Liberation Sans", "Noto Sans CJK SC", sans-serif' stroke="#000" stroke-width="0.15">1 Apr 16:00</text>
<rect x="1022" y="924" width="1" height="2" fill="#000" shape-rendering="crispEdges"/>
<text x="1021" y="935.4" font-size="9.7" fill="#000" font-family='"Liberation Sans", "Noto Sans CJK SC", sans-serif' stroke="#000" stroke-width="0.15">3 Apr 00:00</text>
<rect x="1086" y="924" width="1" height="2" fill="#000" shape-rendering="crispEdges"/>
<text x="1085" y="935.4" font-size="9.7" fill="#000" font-family='"Liberation Sans", "Noto Sans CJK SC", sans-serif' stroke="#000" stroke-width="0.15">6 Apr 08:00</text>
<rect x="1150" y="924" width="1" height="2" fill="#000" shape-rendering="crispEdges"/>
<text x="1149" y="935.4" font-size="9.7" fill="#000" font-family='"Liberation Sans", "Noto Sans CJK SC", sans-serif' stroke="#000" stroke-width="0.15">7 Apr 16:00</text>
<rect x="1214" y="924" width="1" height="2" fill="#000" shape-rendering="crispEdges"/>
<text x="1213" y="935.4" font-size="9.7" fill="#000" font-family='"Liberation Sans", "Noto Sans CJK SC", sans-serif' stroke="#000" stroke-width="0.15">9 Apr 00:00</text>
<rect x="1278" y="924" width="1" height="2" fill="#000" shape-rendering="crispEdges"/>
<text x="1277" y="935.4" font-size="9.7" fill="#000" font-family='"Liberation Sans", "Noto Sans CJK SC", sans-serif' stroke="#000" stroke-width="0.15">13 Apr 04:00</text>
<rect x="1342" y="924" width="1" height="2" fill="#000" shape-rendering="crispEdges"/>
<text x="1341" y="935.4" font-size="9.7" fill="#000" font-family='"Liberation Sans", "Noto Sans CJK SC", sans-serif' stroke="#000" stroke-width="0.15">14 Apr 12:00</text>
<polygon points="1,32.5 9,32.5 5,28" fill="#000"/>
<text x="13.2" y="33.8" font-size="9.8" fill="#000" font-family='"Liberation Sans", "Noto Sans CJK SC", sans-serif' textLength="53.8" lengthAdjust="spacingAndGlyphs" stroke="#000" stroke-width="0.15">USDJPY-,H4</text>
<text x="73.7" y="33.8" font-size="9.8" fill="#000" font-family='"Liberation Sans", "Noto Sans CJK SC", sans-serif' textLength="140" lengthAdjust="spacingAndGlyphs" stroke="#000" stroke-width="0.15">107.158 107.182 107.153 107.165</text>
<g shape-rendering="crispEdges">
<rect x="1" y="42" width="52" height="25" fill="#c40808" />
<rect x="1" y="66" width="109" height="40" fill="#b80000" />
<rect x="168" y="42" width="52" height="25" fill="#c40808" />
<rect x="112" y="66" width="108" height="40" fill="#b80000" />
<rect x="2" y="43" width="50" height="24" fill="url(#gs1)" />
<rect x="2" y="67" width="107" height="38" fill="url(#gs2)" />
<rect x="169" y="43" width="50" height="24" fill="url(#gs1)" />
<rect x="113" y="67" width="106" height="38" fill="url(#gs2)" />
<rect x="2" y="66" width="51" height="1" fill="#dc3232" />
<rect x="168" y="66" width="51" height="1" fill="#dc3232" />
<rect x="5" y="65" width="44" height="1" fill="#a80000" />
<rect x="172" y="65" width="44" height="1" fill="#a80000" />
<rect x="5" y="66" width="44" height="1" fill="#f48c8c" />
<rect x="172" y="66" width="44" height="1" fill="#f48c8c" />
<rect x="55" y="42" width="111" height="22" fill="#b8bcc4" />
<rect x="56" y="43" width="109" height="20" fill="#fff" />
<rect x="56" y="43" width="20" height="20" fill="url(#gb)" />
<rect x="145" y="43" width="20" height="20" fill="url(#gb)" />
<rect x="76" y="43" width="1" height="20" fill="#b8bcc4" />
<rect x="144" y="43" width="1" height="20" fill="#b8bcc4" />
<polygon points="63,51 69,51 66,54.5" fill="#4a5cc0"/>
<polygon points="152,54.5 158,54.5 155,51" fill="#4a5cc0"/>
</g>
<text x="26" y="58" font-size="12" fill="#ffecec" font-family='"Liberation Sans", "Noto Sans CJK SC", sans-serif' textLength="25.5" lengthAdjust="spacingAndGlyphs" text-anchor="middle" >SELL</text>
<text x="193" y="58" font-size="12" fill="#ffecec" font-family='"Liberation Sans", "Noto Sans CJK SC", sans-serif' textLength="23" lengthAdjust="spacingAndGlyphs" text-anchor="middle" >BUY</text>
<text x="140.5" y="56.5" font-size="11.5" fill="#000" font-family='"Liberation Sans", "Noto Sans CJK SC", sans-serif' text-anchor="end" >1.00</text>
<text x="24.5" y="96.8" font-size="12" fill="#fff" font-family='"Liberation Sans", "Noto Sans CJK SC", sans-serif' textLength="20" lengthAdjust="spacingAndGlyphs" font-weight="bold" >107</text>
<text x="48" y="97.3" font-size="35" fill="#fff" font-family='"Liberation Sans", "Noto Sans CJK SC", sans-serif' textLength="35.5" lengthAdjust="spacingAndGlyphs" >16</text>
<text x="88.3" y="80.8" font-size="12" fill="#fff" font-family='"Liberation Sans", "Noto Sans CJK SC", sans-serif' font-weight="bold" >5</text>
<text x="134.4" y="96.8" font-size="12" fill="#fff" font-family='"Liberation Sans", "Noto Sans CJK SC", sans-serif' textLength="20" lengthAdjust="spacingAndGlyphs" font-weight="bold" >107</text>
<text x="159.3" y="97.3" font-size="35" fill="#fff" font-family='"Liberation Sans", "Noto Sans CJK SC", sans-serif' textLength="35.5" lengthAdjust="spacingAndGlyphs" >19</text>
<text x="198.8" y="80.8" font-size="12" fill="#fff" font-family='"Liberation Sans", "Noto Sans CJK SC", sans-serif' font-weight="bold" >0</text>
<g id="toolbar">
<rect x="0" y="0" width="1654" height="18" fill="#f0f0f0"/>
<rect x="0" y="17" width="1654" height="1" fill="#f5f5f5" shape-rendering="crispEdges"/>
<rect x="0" y="18" width="1654" height="1" fill="#a8a8a8" shape-rendering="crispEdges"/>
<rect x="0" y="19" width="1654" height="1" fill="#6a6a6a" shape-rendering="crispEdges"/>
<rect x="0" y="20" width="1654" height="2" fill="#ffffff" shape-rendering="crispEdges"/>
<text x="-2" y="9.8" font-size="12.5" fill="#000" font-family='"Liberation Sans", "Noto Sans CJK SC", sans-serif' textLength="35" lengthAdjust="spacingAndGlyphs">新订单</text>
<text x="150" y="9.8" font-size="12.5" fill="#000" font-family='"Liberation Sans", "Noto Sans CJK SC", sans-serif' textLength="46" lengthAdjust="spacingAndGlyphs">自动交易</text>
<polygon points="50,-1 54,-1 60.5,7 53.5,13.5 45,8" fill="#d8a418" stroke="#9a6a08" stroke-width="0.9"/>
<polygon points="51,-1 53,-1 57,6 53,9.5 48.5,7" fill="#ecc43c"/>
<polygon points="45,8 53.5,13.5 60.5,7 60.8,8.6 53.6,14.8 45,9.6" fill="#a87410"/>
<path d="M46,8.8 L53.5,13.6 L60,7.8" stroke="#f8e8b0" stroke-width="0.7" fill="none"/>
<rect x="75.2" y="-2" width="10.8" height="9" fill="#2f8fe8"/>
<rect x="78.2" y="-2" width="1.6" height="9" fill="#e8f4ff"/>
<rect x="80.5" y="2.3" width="4" height="1.4" fill="#cfe6ff"/>
<path d="M76,13.2 a3.2,3.2 0 0 1 -0.3,-6.3 a4,3.6 0 0 1 7.2,-0.8 a3.2,3.2 0 0 1 5.5,3.2 a2,2 0 0 1 -1,3.9 z" fill="#e9eef8" stroke="#5874b0" stroke-width="1"/>
<path d="M75,12 H88" stroke="#b8c6e0" stroke-width="1.2"/>
<circle cx="108.8" cy="5.6" r="7.4" fill="#e6edf5"/>
<path d="M108.8,5.6 L108.8,13.2 A7.6,7.6 0 0 0 114,-0.2 z" fill="#b9d8b9"/>
<circle cx="108.8" cy="5.6" r="7.2" fill="none" stroke="#b4c4e4" stroke-width="0.9"/>
<circle cx="108.8" cy="5.6" r="5" fill="none" stroke="#88a4e0" stroke-width="1"/>
<circle cx="108.8" cy="5.6" r="2.9" fill="none" stroke="#5a84dc" stroke-width="1"/>
<circle cx="108.8" cy="5.6" r="1.5" fill="#2458d0"/>
<path d="M109.4,6.5 V13.4" stroke="#28b028" stroke-width="1.3"/>
<path d="M109.4,9 V13.4 A7.6,7.6 0 0 0 115.9,8.6 L113.4,7.4 A4.6,4.6 0 0 1 109.4,10.4z" fill="#4cb84c" fill-opacity="0.85"/>
<ellipse cx="136" cy="2.6" rx="7.6" ry="2.4" fill="#58a8e0"/>
<ellipse cx="136" cy="0.5" rx="4.4" ry="3" fill="#3f8fd4"/>
<polygon points="128.6,5 143.6,5 140,10 135.8,13.4" fill="#f2c838" stroke="#c89c18" stroke-width="0.5"/>
<polygon points="130,5.4 138,5.4 134,9" fill="#fae88c"/>
<circle cx="140.4" cy="10" r="4" fill="#dc2410"/>
<rect x="138.9" y="8.5" width="3" height="3" fill="#fff"/>
<rect x="204" y="0" width="1" height="17" fill="#a8a8a8" shape-rendering="crispEdges"/>
<rect x="208" y="0" width="3" height="1" fill="#b0b0b0" shape-rendering="crispEdges"/>
<rect x="208" y="2" width="3" height="1" fill="#b0b0b0" shape-rendering="crispEdges"/>
<rect x="208" y="4" width="3" height="1" fill="#b0b0b0" shape-rendering="crispEdges"/>
<rect x="208" y="6" width="3" height="1" fill="#b0b0b0" shape-rendering="crispEdges"/>
<rect x="208" y="8" width="3" height="1" fill="#b0b0b0" shape-rendering="crispEdges"/>
<rect x="208" y="10" width="3" height="1" fill="#b0b0b0" shape-rendering="crispEdges"/>
<rect x="208" y="12" width="3" height="1" fill="#b0b0b0" shape-rendering="crispEdges"/>
<rect x="208" y="14" width="3" height="1" fill="#b0b0b0" shape-rendering="crispEdges"/>
<path d="M222.5,0 V13.5 M220,11.5 H233 M231,9.5 L233.5,11.5 L231,13.5" stroke="#505050" stroke-width="1" fill="none"/>
<path d="M229.5,1 V9.5 M226.5,8.5 H229.5 M229.5,1.5 H232" stroke="#1f9a3a" stroke-width="1.4" fill="none"/>
<rect x="243" y="0" width="25" height="17" fill="#f8f8f8" shape-rendering="crispEdges"/>
<rect x="243" y="0" width="1" height="17" fill="#a8a8a8" shape-rendering="crispEdges"/>
<path d="M250.5,0 V13.5 M248,11.5 H261 M259,9.5 L261.5,11.5 L259,13.5" stroke="#505050" stroke-width="1" fill="none"/>
<rect x="254.5" y="0.5" width="4" height="7" fill="#22c04a" stroke="#0f7a28" stroke-width="1"/><path d="M256.5,8 V10" stroke="#0f7a28"/>
<path d="M278.5,0 V13.5 M276,11.5 H289 M287,9.5 L289.5,11.5 L287,13.5" stroke="#505050" stroke-width="1" fill="none"/>
<path d="M277,9 C281,2 284,1 289,7" stroke="#1f9a3a" stroke-width="1.2" fill="none"/>
<rect x="299" y="0" width="1" height="17" fill="#a8a8a8" shape-rendering="crispEdges"/>
<path d="M317,8 L323,12.5" stroke="#c8a020" stroke-width="3" stroke-linecap="round"/>
<circle cx="313.5" cy="4" r="5.3" fill="#d4e8ff" stroke="#5a8fd0" stroke-width="1.2"/>
<path d="M311,4 H316" stroke="#2a62c8" stroke-width="1.6"/>
<path d="M313.5,1.5 V6.5" stroke="#2a62c8" stroke-width="1.6"/>
<path d="M345,8 L351,12.5" stroke="#c8a020" stroke-width="3" stroke-linecap="round"/>
<circle cx="341.5" cy="4" r="5.3" fill="#d4e8ff" stroke="#5a8fd0" stroke-width="1.2"/>
<path d="M339,4 H344" stroke="#2a62c8" stroke-width="1.6"/>
<rect x="364" y="0" width="7.5" height="6.2" fill="#4caf30"/>
<rect x="365.5" y="2" width="4.5" height="2.6" fill="#f4f8ff"/>
<rect x="372.5" y="0" width="7.5" height="6.2" fill="#2e62d0"/>
<rect x="374.0" y="2" width="4.5" height="2.6" fill="#f4f8ff"/>
<rect x="364" y="6.8" width="7.5" height="6.2" fill="#2e62d0"/>
<rect x="365.5" y="8.8" width="4.5" height="2.6" fill="#f4f8ff"/>
<rect x="372.5" y="6.8" width="7.5" height="6.2" fill="#4caf30"/>
<rect x="374.0" y="8.8" width="4.5" height="2.6" fill="#f4f8ff"/>
<rect x="389" y="0" width="1" height="17" fill="#a8a8a8" shape-rendering="crispEdges"/>
<rect x="394" y="0" width="1" height="17" fill="#a8a8a8" shape-rendering="crispEdges"/>
<rect x="395" y="0" width="27" height="17" fill="#f8f8f8" shape-rendering="crispEdges"/>
<rect x="395" y="0" width="1" height="17" fill="#a8a8a8" shape-rendering="crispEdges"/>
<path d="M402.5,0 V13.5 M400,11.5 H413 M411,9.5 L413.5,11.5 L411,13.5" stroke="#505050" stroke-width="1" fill="none"/>
<polygon points="407,2 407,9 411.5,5.5" fill="#2fb040" stroke="#1f8a30" stroke-width="0.6"/>
<rect x="422" y="0" width="29" height="17" fill="#f8f8f8" shape-rendering="crispEdges"/>
<rect x="422" y="0" width="1" height="17" fill="#a8a8a8" shape-rendering="crispEdges"/>
<path d="M430.5,0 V13.5 M428,11.5 H441 M439,9.5 L441.5,11.5 L439,13.5" stroke="#505050" stroke-width="1" fill="none"/>
<path d="M436.5,0 V10" stroke="#2a62c8" stroke-width="1.2"/><path d="M442,5.5 H438 M439.5,3.5 L437.5,5.5 L439.5,7.5" stroke="#d04010" stroke-width="1.2" fill="none"/>
<rect x="451" y="0" width="1" height="17" fill="#a8a8a8" shape-rendering="crispEdges"/>
<rect x="461.5" y="0" width="9" height="11" fill="#f8f8f8" stroke="#808080" stroke-width="1"/>
<path d="M470.5,4 V14 M465.5,9 H475.5" stroke="#2eb82e" stroke-width="3.4"/>
<polygon points="483,4.5 489,4.5 486,8" fill="#000"/>
<circle cx="507" cy="5.5" r="7" fill="#f4f8ff" stroke="#2a62c8" stroke-width="2"/>
<path d="M507,1.5 V6 H510" stroke="#404040" stroke-width="1.2" fill="none"/>
<polygon points="522,4.5 528,4.5 525,8" fill="#000"/>
<rect x="538.5" y="-1" width="15" height="13" fill="#fafcff" stroke="#3a78d0" stroke-width="1.2"/>
<rect x="538" y="-1" width="16" height="2.5" fill="#3a78d0"/>
<path d="M540,6 L543,4.5 L546,5.5 L549,3.5 L552,4" stroke="#c03818" stroke-width="1" fill="none"/>
<path d="M540,10.5 L543,9 L546,10 L549,8 L552,10" stroke="#1f9a3a" stroke-width="1" fill="none"/>
<path d="M539,7 H553" stroke="#3a78d0" stroke-width="0.8"/>
<polygon points="561,4.5 567,4.5 564,8" fill="#000"/>
<rect x="572" y="0" width="1" height="17" fill="#a8a8a8" shape-rendering="crispEdges"/>
<rect x="576" y="0" width="3" height="1" fill="#b0b0b0" shape-rendering="crispEdges"/>
<rect x="576" y="2" width="3" height="1" fill="#b0b0b0" shape-rendering="crispEdges"/>
<rect x="576" y="4" width="3" height="1" fill="#b0b0b0" shape-rendering="crispEdges"/>
<rect x="576" y="6" width="3" height="1" fill="#b0b0b0" shape-rendering="crispEdges"/>
<rect x="576" y="8" width="3" height="1" fill="#b0b0b0" shape-rendering="crispEdges"/>
<rect x="576" y="10" width="3" height="1" fill="#b0b0b0" shape-rendering="crispEdges"/>
<rect x="576" y="12" width="3" height="1" fill="#b0b0b0" shape-rendering="crispEdges"/>
<rect x="576" y="14" width="3" height="1" fill="#b0b0b0" shape-rendering="crispEdges"/>
<rect x="582" y="0" width="25" height="17" fill="#f8f8f8" shape-rendering="crispEdges"/>
<rect x="582" y="0" width="1" height="17" fill="#a8a8a8" shape-rendering="crispEdges"/>
<polygon points="590,-2 590,11 593,8.5 595.5,13 597.5,12 595.2,7.6 598.5,7.2" fill="#404040"/>
<path d="M615,6.5 H630 M622.5,0 V14" stroke="#505050" stroke-width="1" shape-rendering="crispEdges"/>
<rect x="639" y="0" width="1" height="17" fill="#a8a8a8" shape-rendering="crispEdges"/>
<path d="M656.5,0 V13" stroke="#505050" stroke-width="1" shape-rendering="crispEdges"/>
<path d="M679,6.5 H691" stroke="#505050" stroke-width="1" shape-rendering="crispEdges"/>
<path d="M707,12.5 L719,1" stroke="#505050" stroke-width="1"/>
<path d="M733,8 L745,0 M735,12 L747,4 M737,3 V13 M740,1 V11 M743,0 V9" stroke="#505050" stroke-width="0.9"/>
<text x="744" y="15" font-size="6.5" font-weight="bold" fill="#303030" font-family='"Liberation Sans", "Noto Sans CJK SC", sans-serif'>E</text>
<path d="M762,2.5 H775" stroke="#505050" stroke-width="1" stroke-dasharray="1 1" shape-rendering="crispEdges"/>
<path d="M762,6.5 H775" stroke="#505050" stroke-width="1" stroke-dasharray="1 1" shape-rendering="crispEdges"/>
<path d="M762,10.5 H771" stroke="#505050" stroke-width="1" stroke-dasharray="1 1" shape-rendering="crispEdges"/>
<text x="771.5" y="15" font-size="6.5" font-weight="bold" fill="#303030" font-family='"Liberation Sans", "Noto Sans CJK SC", sans-serif'>F</text>
<text x="792.5" y="10.5" font-size="11" fill="#505050" font-family='"Liberation Sans", "Noto Sans CJK SC", sans-serif'>A</text>
<rect x="819.5" y="0.5" width="11" height="12" fill="none" stroke="#505050" stroke-width="1" stroke-dasharray="1 1" shape-rendering="crispEdges"/>
<text x="821.3" y="10.5" font-size="11" fill="#505050" font-family='"Liberation Sans", "Noto Sans CJK SC", sans-serif'>T</text>
<polygon points="849,-1 852,2 849,5 846,2" fill="#404040"/><polygon points="857,6 860,9 857,12 854,9" fill="#404040"/>
<path d="M848,6 L851,9 L856,3" stroke="#404040" stroke-width="1.2" fill="none"/>
<polygon points="867,4.5 873,4.5 870,8" fill="#000"/>
<rect x="878" y="0" width="1" height="17" fill="#a8a8a8" shape-rendering="crispEdges"/>
<rect x="882" y="0" width="3" height="1" fill="#b0b0b0" shape-rendering="crispEdges"/>
<rect x="882" y="2" width="3" height="1" fill="#b0b0b0" shape-rendering="crispEdges"/>
<rect x="882" y="4" width="3" height="1" fill="#b0b0b0" shape-rendering="crispEdges"/>
<rect x="882" y="6" width="3" height="1" fill="#b0b0b0" shape-rendering="crispEdges"/>
<rect x="882" y="8" width="3" height="1" fill="#b0b0b0" shape-rendering="crispEdges"/>
<rect x="882" y="10" width="3" height="1" fill="#b0b0b0" shape-rendering="crispEdges"/>
<rect x="882" y="12" width="3" height="1" fill="#b0b0b0" shape-rendering="crispEdges"/>
<rect x="882" y="14" width="3" height="1" fill="#b0b0b0" shape-rendering="crispEdges"/>
<rect x="1029" y="0" width="25" height="17" fill="#f8f8f8" shape-rendering="crispEdges"/>
<rect x="1029" y="0" width="1" height="17" fill="#a8a8a8" shape-rendering="crispEdges"/>
<text x="893.5" y="9.7" font-size="9.5" fill="#404040" font-family='"Liberation Sans", "Noto Sans CJK SC", sans-serif' textLength="12.3" lengthAdjust="spacingAndGlyphs">M1</text>
<text x="921.6" y="9.7" font-size="9.5" fill="#404040" font-family='"Liberation Sans", "Noto Sans CJK SC", sans-serif' textLength="12.3" lengthAdjust="spacingAndGlyphs">M5</text>
<text x="947.6" y="9.7" font-size="9.5" fill="#404040" font-family='"Liberation Sans", "Noto Sans CJK SC", sans-serif' textLength="17.6" lengthAdjust="spacingAndGlyphs">M15</text>
<text x="975.4" y="9.7" font-size="9.5" fill="#404040" font-family='"Liberation Sans", "Noto Sans CJK SC", sans-serif' textLength="17.8" lengthAdjust="spacingAndGlyphs">M30</text>
<text x="1006.6" y="9.7" font-size="9.5" fill="#404040" font-family='"Liberation Sans", "Noto Sans CJK SC", sans-serif' textLength="11.4" lengthAdjust="spacingAndGlyphs">H1</text>
<text x="1033" y="9.7" font-size="9.5" fill="#404040" font-family='"Liberation Sans", "Noto Sans CJK SC", sans-serif' textLength="12.6" lengthAdjust="spacingAndGlyphs">H4</text>
<text x="1062.5" y="9.7" font-size="9.5" fill="#404040" font-family='"Liberation Sans", "Noto Sans CJK SC", sans-serif' textLength="11.5" lengthAdjust="spacingAndGlyphs">D1</text>
<text x="1090" y="9.7" font-size="9.5" fill="#404040" font-family='"Liberation Sans", "Noto Sans CJK SC", sans-serif' textLength="14" lengthAdjust="spacingAndGlyphs">W1</text>
<text x="1116.6" y="9.7" font-size="9.5" fill="#404040" font-family='"Liberation Sans", "Noto Sans CJK SC", sans-serif' textLength="14.8" lengthAdjust="spacingAndGlyphs">MN</text>
<rect x="1139" y="0" width="1" height="17" fill="#a8a8a8" shape-rendering="crispEdges"/>
<circle cx="1609.5" cy="3.5" r="3.8" fill="#dce8ff" stroke="#2a62c8" stroke-width="1.6"/><path d="M1606.5,6.5 L1601.5,11.5" stroke="#2a62c8" stroke-width="2.2" stroke-linecap="round"/>
<path d="M1628,6 a5,4 0 1 1 5,4 l-3,3 l0.5,-3.5 a5,4 0 0 1 -2.5,-3.5z" fill="#f4f4f4" stroke="#909090" stroke-width="1"/>
<path d="M1638,3 a5.5,4 0 1 1 5,4.5 l2,2.5 l-4,-2.5 a5,4 0 0 1 -3,-4.5z" fill="#f8f8f8" stroke="#909090" stroke-width="1"/>
</g>
</svg>
</body></html>
